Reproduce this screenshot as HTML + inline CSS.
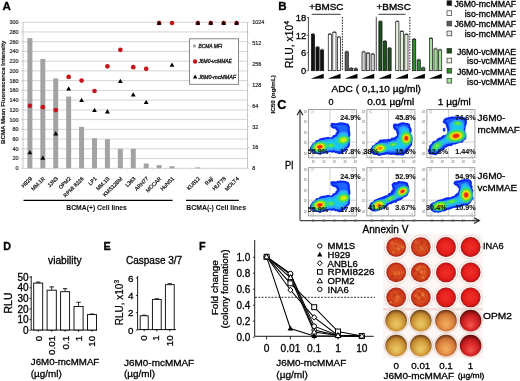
<!DOCTYPE html><html><head><meta charset="utf-8"><style>html,body{margin:0;padding:0;background:#fff;}svg{display:block;will-change:transform;}text{font-family:"Liberation Sans",sans-serif;}</style></head><body><svg width="520" height="381" viewBox="0 0 520 381" font-family="'Liberation Sans', sans-serif">
<defs>
<filter id="bl" x="-20%" y="-20%" width="140%" height="140%"><feGaussianBlur stdDeviation="0.45"/></filter>
<radialGradient id="gOr" cx="50%" cy="50%" r="50%"><stop offset="0" stop-color="#dc5424"/><stop offset="0.7" stop-color="#d2441c"/><stop offset="0.9" stop-color="#bc2e18"/><stop offset="1" stop-color="#9a2012"/></radialGradient>
<radialGradient id="gRd" cx="50%" cy="50%" r="50%"><stop offset="0" stop-color="#f03028"/><stop offset="0.7" stop-color="#e41e1c"/><stop offset="0.9" stop-color="#c41616"/><stop offset="1" stop-color="#a21212"/></radialGradient>
<radialGradient id="gGd" cx="50%" cy="56%" r="56%" fx="50%" fy="70%"><stop offset="0" stop-color="#eccb6c"/><stop offset="0.45" stop-color="#dcab48"/><stop offset="0.75" stop-color="#c08830"/><stop offset="0.9" stop-color="#8c5a20"/><stop offset="1" stop-color="#5e3c14"/></radialGradient>
<radialGradient id="gOg" cx="50%" cy="56%" r="56%" fx="50%" fy="70%"><stop offset="0" stop-color="#f2b060"/><stop offset="0.45" stop-color="#e4924a"/><stop offset="0.75" stop-color="#cc7234"/><stop offset="0.9" stop-color="#8e4a20"/><stop offset="1" stop-color="#5e3014"/></radialGradient>
<radialGradient id="gDr" cx="50%" cy="56%" r="56%" fx="50%" fy="74%"><stop offset="0" stop-color="#f05a50"/><stop offset="0.4" stop-color="#e23030"/><stop offset="0.72" stop-color="#c01c1c"/><stop offset="0.9" stop-color="#7c1010"/><stop offset="1" stop-color="#4a0a0a"/></radialGradient>
<radialGradient id="hR"><stop offset="0" stop-color="#e8101a"/><stop offset="0.22" stop-color="#f04010"/><stop offset="0.4" stop-color="#f8e800"/><stop offset="0.62" stop-color="#40e050"/><stop offset="0.85" stop-color="#30d890" stop-opacity="0.6"/><stop offset="1" stop-color="#20c8f0" stop-opacity="0"/></radialGradient>
<radialGradient id="hR2"><stop offset="0" stop-color="#f05010"/><stop offset="0.2" stop-color="#f8a000"/><stop offset="0.4" stop-color="#f0f000"/><stop offset="0.65" stop-color="#40e050"/><stop offset="0.85" stop-color="#30d890" stop-opacity="0.6"/><stop offset="1" stop-color="#20c8f0" stop-opacity="0"/></radialGradient>
<radialGradient id="hY"><stop offset="0" stop-color="#e8e000"/><stop offset="0.3" stop-color="#c8f000"/><stop offset="0.6" stop-color="#40e050"/><stop offset="0.85" stop-color="#30d890" stop-opacity="0.6"/><stop offset="1" stop-color="#20c8f0" stop-opacity="0"/></radialGradient>
<radialGradient id="hG"><stop offset="0" stop-color="#a8f040"/><stop offset="0.35" stop-color="#40e050"/><stop offset="0.75" stop-color="#30d890" stop-opacity="0.6"/><stop offset="1" stop-color="#20c8f0" stop-opacity="0"/></radialGradient>
</defs>
<rect width="520" height="381" fill="#fff"/>
<text x="2.6" y="10.1" font-size="11.6" font-weight="bold" fill="#000" stroke="#000" stroke-width="0.3">A</text>
<line x1="23" y1="168.3" x2="247.5" y2="168.3" stroke="#cfcfcf" stroke-width="0.9"/>
<line x1="23" y1="158.56" x2="247.5" y2="158.56" stroke="#cfcfcf" stroke-width="0.9"/>
<line x1="23" y1="148.82" x2="247.5" y2="148.82" stroke="#cfcfcf" stroke-width="0.9"/>
<line x1="23" y1="139.08" x2="247.5" y2="139.08" stroke="#cfcfcf" stroke-width="0.9"/>
<line x1="23" y1="129.34" x2="247.5" y2="129.34" stroke="#cfcfcf" stroke-width="0.9"/>
<line x1="23" y1="119.6" x2="247.5" y2="119.6" stroke="#cfcfcf" stroke-width="0.9"/>
<line x1="23" y1="109.86" x2="247.5" y2="109.86" stroke="#cfcfcf" stroke-width="0.9"/>
<line x1="23" y1="100.12" x2="247.5" y2="100.12" stroke="#cfcfcf" stroke-width="0.9"/>
<line x1="23" y1="90.38" x2="247.5" y2="90.38" stroke="#cfcfcf" stroke-width="0.9"/>
<line x1="23" y1="80.64" x2="247.5" y2="80.64" stroke="#cfcfcf" stroke-width="0.9"/>
<line x1="23" y1="70.9" x2="247.5" y2="70.9" stroke="#cfcfcf" stroke-width="0.9"/>
<line x1="23" y1="61.16" x2="247.5" y2="61.16" stroke="#cfcfcf" stroke-width="0.9"/>
<line x1="23" y1="51.42" x2="247.5" y2="51.42" stroke="#cfcfcf" stroke-width="0.9"/>
<line x1="23" y1="41.68" x2="247.5" y2="41.68" stroke="#cfcfcf" stroke-width="0.9"/>
<line x1="23" y1="31.94" x2="247.5" y2="31.94" stroke="#cfcfcf" stroke-width="0.9"/>
<line x1="23" y1="22.2" x2="247.5" y2="22.2" stroke="#cfcfcf" stroke-width="0.9"/>
<line x1="23" y1="22.2" x2="23" y2="168.3" stroke="#b8b8b8" stroke-width="0.8"/>
<line x1="247.5" y1="22.2" x2="247.5" y2="168.3" stroke="#b8b8b8" stroke-width="0.8"/>
<line x1="21" y1="168.3" x2="23" y2="168.3" stroke="#b8b8b8" stroke-width="0.6"/>
<text x="18.6" y="170.2" font-size="5.5" text-anchor="end" fill="#2a2a2a" stroke="#2a2a2a" stroke-width="0.2">0</text>
<line x1="21" y1="158.56" x2="23" y2="158.56" stroke="#b8b8b8" stroke-width="0.6"/>
<text x="18.6" y="160.46" font-size="5.5" text-anchor="end" fill="#2a2a2a" stroke="#2a2a2a" stroke-width="0.2">20</text>
<line x1="21" y1="148.82" x2="23" y2="148.82" stroke="#b8b8b8" stroke-width="0.6"/>
<text x="18.6" y="150.72" font-size="5.5" text-anchor="end" fill="#2a2a2a" stroke="#2a2a2a" stroke-width="0.2">40</text>
<line x1="21" y1="139.08" x2="23" y2="139.08" stroke="#b8b8b8" stroke-width="0.6"/>
<text x="18.6" y="140.98" font-size="5.5" text-anchor="end" fill="#2a2a2a" stroke="#2a2a2a" stroke-width="0.2">60</text>
<line x1="21" y1="129.34" x2="23" y2="129.34" stroke="#b8b8b8" stroke-width="0.6"/>
<text x="18.6" y="131.24" font-size="5.5" text-anchor="end" fill="#2a2a2a" stroke="#2a2a2a" stroke-width="0.2">80</text>
<line x1="21" y1="119.6" x2="23" y2="119.6" stroke="#b8b8b8" stroke-width="0.6"/>
<text x="18.6" y="121.5" font-size="5.5" text-anchor="end" fill="#2a2a2a" stroke="#2a2a2a" stroke-width="0.2">100</text>
<line x1="21" y1="109.86" x2="23" y2="109.86" stroke="#b8b8b8" stroke-width="0.6"/>
<text x="18.6" y="111.76" font-size="5.5" text-anchor="end" fill="#2a2a2a" stroke="#2a2a2a" stroke-width="0.2">120</text>
<line x1="21" y1="100.12" x2="23" y2="100.12" stroke="#b8b8b8" stroke-width="0.6"/>
<text x="18.6" y="102.02" font-size="5.5" text-anchor="end" fill="#2a2a2a" stroke="#2a2a2a" stroke-width="0.2">140</text>
<line x1="21" y1="90.38" x2="23" y2="90.38" stroke="#b8b8b8" stroke-width="0.6"/>
<text x="18.6" y="92.28" font-size="5.5" text-anchor="end" fill="#2a2a2a" stroke="#2a2a2a" stroke-width="0.2">160</text>
<line x1="21" y1="80.64" x2="23" y2="80.64" stroke="#b8b8b8" stroke-width="0.6"/>
<text x="18.6" y="82.54" font-size="5.5" text-anchor="end" fill="#2a2a2a" stroke="#2a2a2a" stroke-width="0.2">180</text>
<line x1="21" y1="70.9" x2="23" y2="70.9" stroke="#b8b8b8" stroke-width="0.6"/>
<text x="18.6" y="72.8" font-size="5.5" text-anchor="end" fill="#2a2a2a" stroke="#2a2a2a" stroke-width="0.2">200</text>
<line x1="21" y1="61.16" x2="23" y2="61.16" stroke="#b8b8b8" stroke-width="0.6"/>
<text x="18.6" y="63.06" font-size="5.5" text-anchor="end" fill="#2a2a2a" stroke="#2a2a2a" stroke-width="0.2">220</text>
<line x1="21" y1="51.42" x2="23" y2="51.42" stroke="#b8b8b8" stroke-width="0.6"/>
<text x="18.6" y="53.32" font-size="5.5" text-anchor="end" fill="#2a2a2a" stroke="#2a2a2a" stroke-width="0.2">240</text>
<line x1="21" y1="41.68" x2="23" y2="41.68" stroke="#b8b8b8" stroke-width="0.6"/>
<text x="18.6" y="43.58" font-size="5.5" text-anchor="end" fill="#2a2a2a" stroke="#2a2a2a" stroke-width="0.2">260</text>
<line x1="21" y1="31.94" x2="23" y2="31.94" stroke="#b8b8b8" stroke-width="0.6"/>
<text x="18.6" y="33.84" font-size="5.5" text-anchor="end" fill="#2a2a2a" stroke="#2a2a2a" stroke-width="0.2">280</text>
<line x1="21" y1="22.2" x2="23" y2="22.2" stroke="#b8b8b8" stroke-width="0.6"/>
<text x="18.6" y="24.1" font-size="5.5" text-anchor="end" fill="#2a2a2a" stroke="#2a2a2a" stroke-width="0.2">300</text>
<line x1="247.5" y1="22.3" x2="249.5" y2="22.3" stroke="#b8b8b8" stroke-width="0.6"/>
<line x1="247.5" y1="32.7" x2="249" y2="32.7" stroke="#c8c8c8" stroke-width="0.5"/>
<text x="252.2" y="24.2" font-size="5.5" fill="#2a2a2a" stroke="#2a2a2a" stroke-width="0.2">1024</text>
<line x1="247.5" y1="43.17" x2="249.5" y2="43.17" stroke="#b8b8b8" stroke-width="0.6"/>
<line x1="247.5" y1="53.57" x2="249" y2="53.57" stroke="#c8c8c8" stroke-width="0.5"/>
<text x="252.2" y="45.07" font-size="5.5" fill="#2a2a2a" stroke="#2a2a2a" stroke-width="0.2">512</text>
<line x1="247.5" y1="64.04" x2="249.5" y2="64.04" stroke="#b8b8b8" stroke-width="0.6"/>
<line x1="247.5" y1="74.44" x2="249" y2="74.44" stroke="#c8c8c8" stroke-width="0.5"/>
<text x="252.2" y="65.94" font-size="5.5" fill="#2a2a2a" stroke="#2a2a2a" stroke-width="0.2">256</text>
<line x1="247.5" y1="84.91" x2="249.5" y2="84.91" stroke="#b8b8b8" stroke-width="0.6"/>
<line x1="247.5" y1="95.31" x2="249" y2="95.31" stroke="#c8c8c8" stroke-width="0.5"/>
<text x="252.2" y="86.81" font-size="5.5" fill="#2a2a2a" stroke="#2a2a2a" stroke-width="0.2">128</text>
<line x1="247.5" y1="105.78" x2="249.5" y2="105.78" stroke="#b8b8b8" stroke-width="0.6"/>
<line x1="247.5" y1="116.18" x2="249" y2="116.18" stroke="#c8c8c8" stroke-width="0.5"/>
<text x="252.2" y="107.68" font-size="5.5" fill="#2a2a2a" stroke="#2a2a2a" stroke-width="0.2">64</text>
<line x1="247.5" y1="126.65" x2="249.5" y2="126.65" stroke="#b8b8b8" stroke-width="0.6"/>
<line x1="247.5" y1="137.05" x2="249" y2="137.05" stroke="#c8c8c8" stroke-width="0.5"/>
<text x="252.2" y="128.55" font-size="5.5" fill="#2a2a2a" stroke="#2a2a2a" stroke-width="0.2">32</text>
<line x1="247.5" y1="147.52" x2="249.5" y2="147.52" stroke="#b8b8b8" stroke-width="0.6"/>
<line x1="247.5" y1="157.92" x2="249" y2="157.92" stroke="#c8c8c8" stroke-width="0.5"/>
<text x="252.2" y="149.42" font-size="5.5" fill="#2a2a2a" stroke="#2a2a2a" stroke-width="0.2">16</text>
<line x1="247.5" y1="168.39" x2="249.5" y2="168.39" stroke="#b8b8b8" stroke-width="0.6"/>
<text x="252.2" y="170.29" font-size="5.5" fill="#2a2a2a" stroke="#2a2a2a" stroke-width="0.2">8</text>
<text x="5.4" y="92.2" font-size="6" text-anchor="middle" font-weight="bold" fill="#111" stroke="#111" stroke-width="0.15" transform="rotate(-90 5.4 92.2)" textLength="103.4" lengthAdjust="spacingAndGlyphs">BCMA Mean Fluorescence Intensity</text>
<text x="274.9" y="94.3" font-size="5.4" text-anchor="middle" font-weight="bold" fill="#111" stroke="#111" stroke-width="0.15" transform="rotate(-90 274.9 94.3)" textLength="38.5" lengthAdjust="spacingAndGlyphs">IC50 (ng/mL)</text>
<line x1="36.36" y1="168.3" x2="36.36" y2="169.8" stroke="#c8c8c8" stroke-width="0.5"/>
<rect x="27.4" y="38.1" width="5" height="130.2" fill="#a3a3a3" stroke="none" stroke-width="1"/>
<line x1="49.28" y1="168.3" x2="49.28" y2="169.8" stroke="#c8c8c8" stroke-width="0.5"/>
<rect x="40.32" y="58.9" width="5" height="109.4" fill="#a3a3a3" stroke="none" stroke-width="1"/>
<line x1="62.2" y1="168.3" x2="62.2" y2="169.8" stroke="#c8c8c8" stroke-width="0.5"/>
<rect x="53.24" y="78.4" width="5" height="89.9" fill="#a3a3a3" stroke="none" stroke-width="1"/>
<line x1="75.12" y1="168.3" x2="75.12" y2="169.8" stroke="#c8c8c8" stroke-width="0.5"/>
<rect x="66.16" y="96.5" width="5" height="71.8" fill="#a3a3a3" stroke="none" stroke-width="1"/>
<line x1="88.04" y1="168.3" x2="88.04" y2="169.8" stroke="#c8c8c8" stroke-width="0.5"/>
<rect x="79.08" y="126.9" width="5" height="41.4" fill="#a3a3a3" stroke="none" stroke-width="1"/>
<line x1="100.96" y1="168.3" x2="100.96" y2="169.8" stroke="#c8c8c8" stroke-width="0.5"/>
<rect x="92" y="138.2" width="5" height="30.1" fill="#a3a3a3" stroke="none" stroke-width="1"/>
<line x1="113.88" y1="168.3" x2="113.88" y2="169.8" stroke="#c8c8c8" stroke-width="0.5"/>
<rect x="104.92" y="139.2" width="5" height="29.1" fill="#a3a3a3" stroke="none" stroke-width="1"/>
<line x1="126.8" y1="168.3" x2="126.8" y2="169.8" stroke="#c8c8c8" stroke-width="0.5"/>
<rect x="117.84" y="148.8" width="5" height="19.5" fill="#a3a3a3" stroke="none" stroke-width="1"/>
<line x1="139.72" y1="168.3" x2="139.72" y2="169.8" stroke="#c8c8c8" stroke-width="0.5"/>
<rect x="130.76" y="148.8" width="5" height="19.5" fill="#a3a3a3" stroke="none" stroke-width="1"/>
<line x1="152.64" y1="168.3" x2="152.64" y2="169.8" stroke="#c8c8c8" stroke-width="0.5"/>
<rect x="143.68" y="163.5" width="5" height="4.8" fill="#a3a3a3" stroke="none" stroke-width="1"/>
<line x1="165.56" y1="168.3" x2="165.56" y2="169.8" stroke="#c8c8c8" stroke-width="0.5"/>
<rect x="156.6" y="165.1" width="5" height="3.2" fill="#a3a3a3" stroke="none" stroke-width="1"/>
<line x1="178.48" y1="168.3" x2="178.48" y2="169.8" stroke="#c8c8c8" stroke-width="0.5"/>
<rect x="169.52" y="166.2" width="5" height="2.1" fill="#a3a3a3" stroke="none" stroke-width="1"/>
<line x1="191.4" y1="168.3" x2="191.4" y2="169.8" stroke="#c8c8c8" stroke-width="0.5"/>
<line x1="204.32" y1="168.3" x2="204.32" y2="169.8" stroke="#c8c8c8" stroke-width="0.5"/>
<rect x="195.36" y="167.4" width="5" height="0.9" fill="#a3a3a3" stroke="none" stroke-width="1"/>
<line x1="217.24" y1="168.3" x2="217.24" y2="169.8" stroke="#c8c8c8" stroke-width="0.5"/>
<line x1="230.16" y1="168.3" x2="230.16" y2="169.8" stroke="#c8c8c8" stroke-width="0.5"/>
<line x1="243.08" y1="168.3" x2="243.08" y2="169.8" stroke="#c8c8c8" stroke-width="0.5"/>
<circle cx="29.9" cy="105.8" r="2.35" fill="#c4161c" stroke="none" stroke-width="1"/>
<polygon points="29.9,150 32.3,154.3 27.5,154.3" fill="#000" stroke="none" stroke-width="1"/>
<text x="32.5" y="179" font-size="5.3" text-anchor="end" fill="#1a1a1a" stroke="#1a1a1a" stroke-width="0.26" transform="rotate(-45 32.5 179)">H929</text>
<circle cx="42.82" cy="107.2" r="2.35" fill="#c4161c" stroke="none" stroke-width="1"/>
<polygon points="42.82,155.5 45.22,159.8 40.42,159.8" fill="#000" stroke="none" stroke-width="1"/>
<text x="45.42" y="179" font-size="5.3" text-anchor="end" fill="#1a1a1a" stroke="#1a1a1a" stroke-width="0.26" transform="rotate(-45 45.42 179)">MM.1R</text>
<circle cx="55.74" cy="110.1" r="2.35" fill="#c4161c" stroke="none" stroke-width="1"/>
<polygon points="55.74,131.1 58.14,135.4 53.34,135.4" fill="#000" stroke="none" stroke-width="1"/>
<text x="58.34" y="179" font-size="5.3" text-anchor="end" fill="#1a1a1a" stroke="#1a1a1a" stroke-width="0.26" transform="rotate(-45 58.34 179)">JJN3</text>
<circle cx="68.66" cy="76.9" r="2.35" fill="#c4161c" stroke="none" stroke-width="1"/>
<polygon points="68.66,86.2 71.06,90.5 66.26,90.5" fill="#000" stroke="none" stroke-width="1"/>
<text x="71.26" y="179" font-size="5.3" text-anchor="end" fill="#1a1a1a" stroke="#1a1a1a" stroke-width="0.26" transform="rotate(-45 71.26 179)">OPM2</text>
<circle cx="81.58" cy="80.6" r="2.35" fill="#c4161c" stroke="none" stroke-width="1"/>
<polygon points="81.58,97.7 83.98,102 79.18,102" fill="#000" stroke="none" stroke-width="1"/>
<text x="84.18" y="179" font-size="5.3" text-anchor="end" fill="#1a1a1a" stroke="#1a1a1a" stroke-width="0.26" transform="rotate(-45 84.18 179)">RPMI 8226</text>
<circle cx="94.5" cy="91" r="2.35" fill="#c4161c" stroke="none" stroke-width="1"/>
<polygon points="94.5,107.8 96.9,112.1 92.1,112.1" fill="#000" stroke="none" stroke-width="1"/>
<text x="97.1" y="179" font-size="5.3" text-anchor="end" fill="#1a1a1a" stroke="#1a1a1a" stroke-width="0.26" transform="rotate(-45 97.1 179)">LP1</text>
<circle cx="107.42" cy="66.3" r="2.35" fill="#c4161c" stroke="none" stroke-width="1"/>
<polygon points="107.42,109.1 109.82,113.4 105.02,113.4" fill="#000" stroke="none" stroke-width="1"/>
<text x="110.02" y="179" font-size="5.3" text-anchor="end" fill="#1a1a1a" stroke="#1a1a1a" stroke-width="0.26" transform="rotate(-45 110.02 179)">MM.1S</text>
<circle cx="120.34" cy="49.8" r="2.35" fill="#c4161c" stroke="none" stroke-width="1"/>
<polygon points="120.34,78.8 122.74,83.1 117.94,83.1" fill="#000" stroke="none" stroke-width="1"/>
<text x="122.94" y="179" font-size="5.3" text-anchor="end" fill="#1a1a1a" stroke="#1a1a1a" stroke-width="0.26" transform="rotate(-45 122.94 179)">KMS12BM</text>
<circle cx="133.26" cy="67.2" r="2.35" fill="#c4161c" stroke="none" stroke-width="1"/>
<polygon points="133.26,92.3 135.66,96.6 130.86,96.6" fill="#000" stroke="none" stroke-width="1"/>
<text x="135.86" y="179" font-size="5.3" text-anchor="end" fill="#1a1a1a" stroke="#1a1a1a" stroke-width="0.26" transform="rotate(-45 135.86 179)">L363</text>
<circle cx="146.18" cy="68.8" r="2.35" fill="#c4161c" stroke="none" stroke-width="1"/>
<polygon points="146.18,99.8 148.58,104.1 143.78,104.1" fill="#000" stroke="none" stroke-width="1"/>
<text x="148.78" y="179" font-size="5.3" text-anchor="end" fill="#1a1a1a" stroke="#1a1a1a" stroke-width="0.26" transform="rotate(-45 148.78 179)">ARH77</text>
<circle cx="159.1" cy="23" r="2.35" fill="#c4161c" stroke="none" stroke-width="1"/>
<polygon points="159.1,20.5 161.5,24.8 156.7,24.8" fill="#000" stroke="none" stroke-width="1"/>
<text x="161.7" y="179" font-size="5.3" text-anchor="end" fill="#1a1a1a" stroke="#1a1a1a" stroke-width="0.26" transform="rotate(-45 161.7 179)">MCCAR</text>
<circle cx="172.02" cy="23" r="2.35" fill="#c4161c" stroke="none" stroke-width="1"/>
<polygon points="172.02,62.5 174.42,66.8 169.62,66.8" fill="#000" stroke="none" stroke-width="1"/>
<text x="174.62" y="179" font-size="5.3" text-anchor="end" fill="#1a1a1a" stroke="#1a1a1a" stroke-width="0.26" transform="rotate(-45 174.62 179)">HuNS1</text>
<circle cx="197.86" cy="23" r="2.35" fill="#c4161c" stroke="none" stroke-width="1"/>
<polygon points="197.86,20.5 200.26,24.8 195.46,24.8" fill="#000" stroke="none" stroke-width="1"/>
<text x="200.46" y="179" font-size="5.3" text-anchor="end" fill="#1a1a1a" stroke="#1a1a1a" stroke-width="0.26" transform="rotate(-45 200.46 179)">KU812</text>
<circle cx="210.78" cy="23" r="2.35" fill="#c4161c" stroke="none" stroke-width="1"/>
<polygon points="210.78,20.5 213.18,24.8 208.38,24.8" fill="#000" stroke="none" stroke-width="1"/>
<text x="213.38" y="179" font-size="5.3" text-anchor="end" fill="#1a1a1a" stroke="#1a1a1a" stroke-width="0.26" transform="rotate(-45 213.38 179)">Raji</text>
<circle cx="223.7" cy="23" r="2.35" fill="#c4161c" stroke="none" stroke-width="1"/>
<polygon points="223.7,20.5 226.1,24.8 221.3,24.8" fill="#000" stroke="none" stroke-width="1"/>
<text x="226.3" y="179" font-size="5.3" text-anchor="end" fill="#1a1a1a" stroke="#1a1a1a" stroke-width="0.26" transform="rotate(-45 226.3 179)">HUT78</text>
<circle cx="236.62" cy="23" r="2.35" fill="#c4161c" stroke="none" stroke-width="1"/>
<polygon points="236.62,20.5 239.02,24.8 234.22,24.8" fill="#000" stroke="none" stroke-width="1"/>
<text x="239.22" y="179" font-size="5.3" text-anchor="end" fill="#1a1a1a" stroke="#1a1a1a" stroke-width="0.26" transform="rotate(-45 239.22 179)">MOLT4</text>
<rect x="189.6" y="38.8" width="49" height="45.5" fill="#fff" stroke="#6a6a6a" stroke-width="0.8"/>
<rect x="193" y="44.6" width="2.8" height="2.8" fill="#a3a3a3" stroke="none" stroke-width="1"/>
<text x="198.4" y="48" font-size="5.2" font-style="italic" fill="#222" stroke="#222" stroke-width="0.32" textLength="23.8" lengthAdjust="spacingAndGlyphs">BCMA MFI</text>
<circle cx="195.1" cy="61.5" r="2.2" fill="#c4161c" stroke="none" stroke-width="1"/>
<text x="198.4" y="63.4" font-size="5.2" font-style="italic" fill="#222" stroke="#222" stroke-width="0.32" textLength="33.5" lengthAdjust="spacingAndGlyphs">J6M0-vcMMAE</text>
<polygon points="195.1,74.6 197.2,78.6 193,78.6" fill="#000" stroke="none" stroke-width="1"/>
<text x="198.4" y="78.7" font-size="5.2" font-style="italic" fill="#222" stroke="#222" stroke-width="0.32" textLength="37.6" lengthAdjust="spacingAndGlyphs">J6M0-mcMMAF</text>
<line x1="23.5" y1="200.4" x2="172.6" y2="200.4" stroke="#000" stroke-width="1.1"/>
<line x1="186" y1="200.4" x2="238.8" y2="200.4" stroke="#000" stroke-width="1.1"/>
<text x="66.3" y="210.4" font-size="6.9" font-weight="bold" fill="#111" stroke="#111" stroke-width="0.05" textLength="60.6" lengthAdjust="spacingAndGlyphs">BCMA(+) Cell lines</text>
<text x="186.3" y="210.4" font-size="6.9" font-weight="bold" fill="#111" stroke="#111" stroke-width="0.05" textLength="59.7" lengthAdjust="spacingAndGlyphs">BCMA(-) Cell lines</text>
<text x="278.3" y="9.9" font-size="11.6" font-weight="bold" fill="#000" stroke="#000" stroke-width="0.3">B</text>
<text x="309.2" y="9.7" font-size="9.8" fill="#000" stroke="#000" stroke-width="0.35" textLength="34.2" lengthAdjust="spacingAndGlyphs">+BMSC</text>
<line x1="311.7" y1="14.3" x2="340.6" y2="14.3" stroke="#222" stroke-width="0.9"/>
<text x="376.6" y="9.7" font-size="9.8" fill="#000" stroke="#000" stroke-width="0.35" textLength="34.2" lengthAdjust="spacingAndGlyphs">+BMSC</text>
<line x1="378.4" y1="14.3" x2="405.5" y2="14.3" stroke="#222" stroke-width="0.9"/>
<line x1="308.4" y1="17" x2="308.4" y2="70.7" stroke="#333" stroke-width="0.9"/>
<line x1="306.6" y1="17.6" x2="308.4" y2="17.6" stroke="#333" stroke-width="0.8"/>
<text x="306.2" y="20.9" font-size="9.4" text-anchor="end" fill="#000" stroke="#000" stroke-width="0.3">18</text>
<line x1="306.6" y1="35.3" x2="308.4" y2="35.3" stroke="#333" stroke-width="0.8"/>
<text x="306.2" y="38.6" font-size="9.4" text-anchor="end" fill="#000" stroke="#000" stroke-width="0.3">12</text>
<line x1="306.6" y1="53" x2="308.4" y2="53" stroke="#333" stroke-width="0.8"/>
<text x="306.2" y="56.3" font-size="9.4" text-anchor="end" fill="#000" stroke="#000" stroke-width="0.3">6</text>
<line x1="306.6" y1="70.7" x2="308.4" y2="70.7" stroke="#333" stroke-width="0.8"/>
<text x="306.2" y="74" font-size="9.4" text-anchor="end" fill="#000" stroke="#000" stroke-width="0.3">0</text>
<text x="293.2" y="44.5" font-size="10.4" text-anchor="middle" stroke="#000" stroke-width="0.22" transform="rotate(-90 293.2 44.5)">RLU,  x10<tspan font-size="6.8" dy="-4">4</tspan></text>
<rect x="311.4" y="34.4" width="3.2" height="36.3" fill="#111111" stroke="#111" stroke-width="0.7"/>
<line x1="311.8" y1="33.6" x2="314.2" y2="33.6" stroke="#111" stroke-width="0.6"/>
<rect x="315.95" y="47.3" width="3.2" height="23.4" fill="#111111" stroke="#111" stroke-width="0.7"/>
<line x1="316.35" y1="46.5" x2="318.75" y2="46.5" stroke="#111" stroke-width="0.6"/>
<rect x="320.5" y="50" width="3.2" height="20.7" fill="#111111" stroke="#111" stroke-width="0.7"/>
<line x1="320.9" y1="49.2" x2="323.3" y2="49.2" stroke="#111" stroke-width="0.6"/>
<polygon points="311.4,78.4 323.7,73.7 323.7,78.6 311.9,78.8" fill="#000" stroke="none" stroke-width="1"/>
<rect x="328.26" y="34.3" width="3.2" height="36.4" fill="#ffffff" stroke="#111" stroke-width="0.7"/>
<line x1="328.66" y1="33.5" x2="331.06" y2="33.5" stroke="#111" stroke-width="0.6"/>
<rect x="332.81" y="32.4" width="3.2" height="38.3" fill="#ffffff" stroke="#111" stroke-width="0.7"/>
<line x1="333.21" y1="31.6" x2="335.61" y2="31.6" stroke="#111" stroke-width="0.6"/>
<rect x="337.36" y="37.2" width="3.2" height="33.5" fill="#ffffff" stroke="#111" stroke-width="0.7"/>
<line x1="337.76" y1="36.4" x2="340.16" y2="36.4" stroke="#111" stroke-width="0.6"/>
<polygon points="328.26,78.4 340.56,73.7 340.56,78.6 328.76,78.8" fill="#000" stroke="none" stroke-width="1"/>
<rect x="345.12" y="51.9" width="3.2" height="18.8" fill="#5a5a5a" stroke="#111" stroke-width="0.7"/>
<line x1="345.52" y1="51.1" x2="347.92" y2="51.1" stroke="#111" stroke-width="0.6"/>
<rect x="349.67" y="68.5" width="3.2" height="2.2" fill="#5a5a5a" stroke="#111" stroke-width="0.7"/>
<line x1="350.07" y1="67.7" x2="352.47" y2="67.7" stroke="#111" stroke-width="0.6"/>
<rect x="354.22" y="68.8" width="3.2" height="1.9" fill="#5a5a5a" stroke="#111" stroke-width="0.7"/>
<line x1="354.62" y1="68" x2="357.02" y2="68" stroke="#111" stroke-width="0.6"/>
<polygon points="345.12,78.4 357.42,73.7 357.42,78.6 345.62,78.8" fill="#000" stroke="none" stroke-width="1"/>
<rect x="361.98" y="52" width="3.2" height="18.7" fill="#d0d0d0" stroke="#111" stroke-width="0.7"/>
<line x1="362.38" y1="51.2" x2="364.78" y2="51.2" stroke="#111" stroke-width="0.6"/>
<rect x="366.53" y="53.3" width="3.2" height="17.4" fill="#d0d0d0" stroke="#111" stroke-width="0.7"/>
<line x1="366.93" y1="52.5" x2="369.33" y2="52.5" stroke="#111" stroke-width="0.6"/>
<rect x="371.08" y="54.2" width="3.2" height="16.5" fill="#d0d0d0" stroke="#111" stroke-width="0.7"/>
<line x1="371.48" y1="53.4" x2="373.88" y2="53.4" stroke="#111" stroke-width="0.6"/>
<polygon points="361.98,78.4 374.28,73.7 374.28,78.6 362.48,78.8" fill="#000" stroke="none" stroke-width="1"/>
<rect x="378.84" y="21.7" width="3.2" height="49" fill="#1d4f1d" stroke="#111" stroke-width="0.7"/>
<line x1="379.24" y1="20.9" x2="381.64" y2="20.9" stroke="#111" stroke-width="0.6"/>
<rect x="383.39" y="41.4" width="3.2" height="29.3" fill="#1d4f1d" stroke="#111" stroke-width="0.7"/>
<line x1="383.79" y1="40.6" x2="386.19" y2="40.6" stroke="#111" stroke-width="0.6"/>
<rect x="387.94" y="48.2" width="3.2" height="22.5" fill="#1d4f1d" stroke="#111" stroke-width="0.7"/>
<line x1="388.34" y1="47.4" x2="390.74" y2="47.4" stroke="#111" stroke-width="0.6"/>
<polygon points="378.84,78.4 391.14,73.7 391.14,78.6 379.34,78.8" fill="#000" stroke="none" stroke-width="1"/>
<rect x="395.7" y="21.7" width="3.2" height="49" fill="#e4f2de" stroke="#111" stroke-width="0.7"/>
<line x1="396.1" y1="20.9" x2="398.5" y2="20.9" stroke="#111" stroke-width="0.6"/>
<rect x="400.25" y="31.6" width="3.2" height="39.1" fill="#e4f2de" stroke="#111" stroke-width="0.7"/>
<line x1="400.65" y1="30.8" x2="403.05" y2="30.8" stroke="#111" stroke-width="0.6"/>
<rect x="404.8" y="34.6" width="3.2" height="36.1" fill="#e4f2de" stroke="#111" stroke-width="0.7"/>
<line x1="405.2" y1="33.8" x2="407.6" y2="33.8" stroke="#111" stroke-width="0.6"/>
<polygon points="395.7,78.4 408,73.7 408,78.6 396.2,78.8" fill="#000" stroke="none" stroke-width="1"/>
<rect x="412.56" y="39.4" width="3.2" height="31.3" fill="#2e8b2e" stroke="#111" stroke-width="0.7"/>
<line x1="412.96" y1="38.6" x2="415.36" y2="38.6" stroke="#111" stroke-width="0.6"/>
<rect x="417.11" y="60" width="3.2" height="10.7" fill="#2e8b2e" stroke="#111" stroke-width="0.7"/>
<line x1="417.51" y1="59.2" x2="419.91" y2="59.2" stroke="#111" stroke-width="0.6"/>
<rect x="421.66" y="67.9" width="3.2" height="2.8" fill="#2e8b2e" stroke="#111" stroke-width="0.7"/>
<line x1="422.06" y1="67.1" x2="424.46" y2="67.1" stroke="#111" stroke-width="0.6"/>
<polygon points="412.56,78.4 424.86,73.7 424.86,78.6 413.06,78.8" fill="#000" stroke="none" stroke-width="1"/>
<rect x="429.42" y="38.5" width="3.2" height="32.2" fill="#a6e39a" stroke="#111" stroke-width="0.7"/>
<line x1="429.82" y1="37.7" x2="432.22" y2="37.7" stroke="#111" stroke-width="0.6"/>
<rect x="433.97" y="49" width="3.2" height="21.7" fill="#a6e39a" stroke="#111" stroke-width="0.7"/>
<line x1="434.37" y1="48.2" x2="436.77" y2="48.2" stroke="#111" stroke-width="0.6"/>
<rect x="438.52" y="50" width="3.2" height="20.7" fill="#a6e39a" stroke="#111" stroke-width="0.7"/>
<line x1="438.92" y1="49.2" x2="441.32" y2="49.2" stroke="#111" stroke-width="0.6"/>
<polygon points="429.42,78.4 441.72,73.7 441.72,78.6 429.92,78.8" fill="#000" stroke="none" stroke-width="1"/>
<line x1="342.4" y1="17" x2="342.4" y2="70.7" stroke="#111" stroke-width="0.9" stroke-dasharray="1.6,1.1"/>
<line x1="409.8" y1="17" x2="409.8" y2="70.7" stroke="#111" stroke-width="0.9" stroke-dasharray="1.6,1.1"/>
<line x1="376.3" y1="16.8" x2="376.3" y2="70.7" stroke="#555" stroke-width="1.1"/>
<text x="331.5" y="92.1" font-size="9" fill="#000" stroke="#000" stroke-width="0.3" textLength="89.5" lengthAdjust="spacingAndGlyphs">ADC ( 0,1,10 &#181;g/ml)</text>
<rect x="447" y="0.8" width="4.7" height="4.7" fill="#111111" stroke="#333" stroke-width="0.7"/>
<text x="516.2" y="7" font-size="8.75" text-anchor="end" fill="#000" stroke="#000" stroke-width="0.3">J6M0-mcMMAF</text>
<rect x="447" y="10.8" width="4.7" height="4.7" fill="#ffffff" stroke="#333" stroke-width="0.7"/>
<text x="516.2" y="17" font-size="8.75" text-anchor="end" fill="#000" stroke="#000" stroke-width="0.3">iso-mcMMAF</text>
<rect x="447" y="21.2" width="4.7" height="4.7" fill="#5a5a5a" stroke="#333" stroke-width="0.7"/>
<text x="516.2" y="27.4" font-size="8.75" text-anchor="end" fill="#000" stroke="#000" stroke-width="0.3">J6M0-mcMMAF</text>
<rect x="447" y="31.1" width="4.7" height="4.7" fill="#ececec" stroke="#333" stroke-width="0.7"/>
<text x="516.2" y="37.3" font-size="8.75" text-anchor="end" fill="#000" stroke="#000" stroke-width="0.3">iso-mcMMAF</text>
<rect x="447" y="48.4" width="4.7" height="4.7" fill="#1d4f1d" stroke="#333" stroke-width="0.7"/>
<text x="516.2" y="54.6" font-size="8.75" text-anchor="end" fill="#000" stroke="#000" stroke-width="0.3">J6M0-vcMMAE</text>
<rect x="447" y="58.2" width="4.7" height="4.7" fill="#eef8ea" stroke="#333" stroke-width="0.7"/>
<text x="516.2" y="64.4" font-size="8.75" text-anchor="end" fill="#000" stroke="#000" stroke-width="0.3">iso-vcMMAE</text>
<rect x="447" y="68.4" width="4.7" height="4.7" fill="#2e8b2e" stroke="#333" stroke-width="0.7"/>
<text x="516.2" y="74.6" font-size="8.75" text-anchor="end" fill="#000" stroke="#000" stroke-width="0.3">J6M0-vcMMAE</text>
<rect x="447" y="78.4" width="4.7" height="4.7" fill="#a6e39a" stroke="#333" stroke-width="0.7"/>
<text x="516.2" y="84.6" font-size="8.75" text-anchor="end" fill="#000" stroke="#000" stroke-width="0.3">iso-vcMMAE</text>
<text x="277.3" y="109.2" font-size="12.6" font-weight="bold" fill="#000" stroke="#000" stroke-width="0.3">C</text>
<text x="331" y="105.3" font-size="9" text-anchor="middle" fill="#000" stroke="#000" stroke-width="0.3">0</text>
<text x="367.2" y="105.3" font-size="9" fill="#000" stroke="#000" stroke-width="0.3" textLength="47" lengthAdjust="spacingAndGlyphs">0.01 &#181;g/ml</text>
<text x="437.8" y="105.3" font-size="9" fill="#000" stroke="#000" stroke-width="0.3" textLength="33" lengthAdjust="spacingAndGlyphs">1 &#181;g/ml</text>
<line x1="300" y1="110.5" x2="300" y2="220.6" stroke="#444" stroke-width="1.2"/>
<line x1="300" y1="220.6" x2="478.5" y2="220.6" stroke="#444" stroke-width="1.2"/>
<polyline points="297.1,115.2 300,110 302.9,115.2" fill="none" stroke="#222" stroke-width="1.2"/>
<polyline points="474,217.7 479.3,220.6 474,223.5" fill="none" stroke="#222" stroke-width="1.2"/>
<text x="284.9" y="168.7" font-size="10.8" fill="#000" stroke="#000" stroke-width="0.3" textLength="8.7" lengthAdjust="spacingAndGlyphs">PI</text>
<text x="362.5" y="232.5" font-size="10.3" fill="#000" stroke="#000" stroke-width="0.3" textLength="45.9" lengthAdjust="spacingAndGlyphs">Annexin V</text>
<text x="477.6" y="120.9" font-size="9.9" fill="#000" stroke="#000" stroke-width="0.3" textLength="27.8" lengthAdjust="spacingAndGlyphs">J6M0-</text>
<text x="477.6" y="132.5" font-size="9.9" fill="#000" stroke="#000" stroke-width="0.3">mcMMAF</text>
<text x="477.6" y="179.3" font-size="9.9" fill="#000" stroke="#000" stroke-width="0.3" textLength="27.8" lengthAdjust="spacingAndGlyphs">J6M0-</text>
<text x="477.6" y="191.3" font-size="9.9" fill="#000" stroke="#000" stroke-width="0.3">vcMMAE</text>
<rect x="308.4" y="109.6" width="48" height="48.2" fill="#fff" stroke="#8c8c8c" stroke-width="0.8"/>
<line x1="330" y1="109.6" x2="330" y2="157.8" stroke="#b0b0b0" stroke-width="0.6"/>
<line x1="308.4" y1="142.1" x2="356.4" y2="142.1" stroke="#b0b0b0" stroke-width="0.6"/>
<text x="310.4" y="113.2" font-size="2.6" fill="#999">Q1</text>
<text x="354.4" y="113.2" font-size="2.6" text-anchor="end" fill="#999">Q2</text>
<text x="310.4" y="156.6" font-size="2.6" fill="#999">Q3</text>
<text x="354.4" y="156.6" font-size="2.6" text-anchor="end" fill="#999">Q4</text>
<line x1="307.2" y1="153.8" x2="308.4" y2="153.8" stroke="#999" stroke-width="0.5"/>
<text x="306.6" y="154.8" font-size="2.8" text-anchor="end" fill="#555" font-style="italic">10</text>
<line x1="307.2" y1="143.3" x2="308.4" y2="143.3" stroke="#999" stroke-width="0.5"/>
<text x="306.6" y="144.3" font-size="2.8" text-anchor="end" fill="#555" font-style="italic">10</text>
<line x1="307.2" y1="132.8" x2="308.4" y2="132.8" stroke="#999" stroke-width="0.5"/>
<text x="306.6" y="133.8" font-size="2.8" text-anchor="end" fill="#555" font-style="italic">10</text>
<line x1="307.2" y1="122.3" x2="308.4" y2="122.3" stroke="#999" stroke-width="0.5"/>
<text x="306.6" y="123.3" font-size="2.8" text-anchor="end" fill="#555" font-style="italic">10</text>
<line x1="307.2" y1="111.8" x2="308.4" y2="111.8" stroke="#999" stroke-width="0.5"/>
<text x="306.6" y="112.8" font-size="2.8" text-anchor="end" fill="#555" font-style="italic">10</text>
<line x1="312.4" y1="157.8" x2="312.4" y2="159" stroke="#999" stroke-width="0.5"/>
<text x="313.2" y="163.4" font-size="2.8" text-anchor="middle" fill="#555" font-style="italic">10</text>
<line x1="322.9" y1="157.8" x2="322.9" y2="159" stroke="#999" stroke-width="0.5"/>
<text x="323.7" y="163.4" font-size="2.8" text-anchor="middle" fill="#555" font-style="italic">10</text>
<line x1="333.4" y1="157.8" x2="333.4" y2="159" stroke="#999" stroke-width="0.5"/>
<text x="334.2" y="163.4" font-size="2.8" text-anchor="middle" fill="#555" font-style="italic">10</text>
<line x1="343.9" y1="157.8" x2="343.9" y2="159" stroke="#999" stroke-width="0.5"/>
<text x="344.7" y="163.4" font-size="2.8" text-anchor="middle" fill="#555" font-style="italic">10</text>
<line x1="354.4" y1="157.8" x2="354.4" y2="159" stroke="#999" stroke-width="0.5"/>
<text x="355.2" y="163.4" font-size="2.8" text-anchor="middle" fill="#555" font-style="italic">10</text>
<rect x="366.9" y="109.6" width="48" height="48.2" fill="#fff" stroke="#8c8c8c" stroke-width="0.8"/>
<line x1="388.5" y1="109.6" x2="388.5" y2="157.8" stroke="#b0b0b0" stroke-width="0.6"/>
<line x1="366.9" y1="142.1" x2="414.9" y2="142.1" stroke="#b0b0b0" stroke-width="0.6"/>
<text x="368.9" y="113.2" font-size="2.6" fill="#999">Q1</text>
<text x="412.9" y="113.2" font-size="2.6" text-anchor="end" fill="#999">Q2</text>
<text x="368.9" y="156.6" font-size="2.6" fill="#999">Q3</text>
<text x="412.9" y="156.6" font-size="2.6" text-anchor="end" fill="#999">Q4</text>
<line x1="365.7" y1="153.8" x2="366.9" y2="153.8" stroke="#999" stroke-width="0.5"/>
<text x="365.1" y="154.8" font-size="2.8" text-anchor="end" fill="#555" font-style="italic">10</text>
<line x1="365.7" y1="143.3" x2="366.9" y2="143.3" stroke="#999" stroke-width="0.5"/>
<text x="365.1" y="144.3" font-size="2.8" text-anchor="end" fill="#555" font-style="italic">10</text>
<line x1="365.7" y1="132.8" x2="366.9" y2="132.8" stroke="#999" stroke-width="0.5"/>
<text x="365.1" y="133.8" font-size="2.8" text-anchor="end" fill="#555" font-style="italic">10</text>
<line x1="365.7" y1="122.3" x2="366.9" y2="122.3" stroke="#999" stroke-width="0.5"/>
<text x="365.1" y="123.3" font-size="2.8" text-anchor="end" fill="#555" font-style="italic">10</text>
<line x1="365.7" y1="111.8" x2="366.9" y2="111.8" stroke="#999" stroke-width="0.5"/>
<text x="365.1" y="112.8" font-size="2.8" text-anchor="end" fill="#555" font-style="italic">10</text>
<line x1="370.9" y1="157.8" x2="370.9" y2="159" stroke="#999" stroke-width="0.5"/>
<text x="371.7" y="163.4" font-size="2.8" text-anchor="middle" fill="#555" font-style="italic">10</text>
<line x1="381.4" y1="157.8" x2="381.4" y2="159" stroke="#999" stroke-width="0.5"/>
<text x="382.2" y="163.4" font-size="2.8" text-anchor="middle" fill="#555" font-style="italic">10</text>
<line x1="391.9" y1="157.8" x2="391.9" y2="159" stroke="#999" stroke-width="0.5"/>
<text x="392.7" y="163.4" font-size="2.8" text-anchor="middle" fill="#555" font-style="italic">10</text>
<line x1="402.4" y1="157.8" x2="402.4" y2="159" stroke="#999" stroke-width="0.5"/>
<text x="403.2" y="163.4" font-size="2.8" text-anchor="middle" fill="#555" font-style="italic">10</text>
<line x1="412.9" y1="157.8" x2="412.9" y2="159" stroke="#999" stroke-width="0.5"/>
<text x="413.7" y="163.4" font-size="2.8" text-anchor="middle" fill="#555" font-style="italic">10</text>
<rect x="426.9" y="109.6" width="48" height="48.2" fill="#fff" stroke="#8c8c8c" stroke-width="0.8"/>
<line x1="448.5" y1="109.6" x2="448.5" y2="157.8" stroke="#b0b0b0" stroke-width="0.6"/>
<line x1="426.9" y1="142.1" x2="474.9" y2="142.1" stroke="#b0b0b0" stroke-width="0.6"/>
<text x="428.9" y="113.2" font-size="2.6" fill="#999">Q1</text>
<text x="472.9" y="113.2" font-size="2.6" text-anchor="end" fill="#999">Q2</text>
<text x="428.9" y="156.6" font-size="2.6" fill="#999">Q3</text>
<text x="472.9" y="156.6" font-size="2.6" text-anchor="end" fill="#999">Q4</text>
<line x1="425.7" y1="153.8" x2="426.9" y2="153.8" stroke="#999" stroke-width="0.5"/>
<text x="425.1" y="154.8" font-size="2.8" text-anchor="end" fill="#555" font-style="italic">10</text>
<line x1="425.7" y1="143.3" x2="426.9" y2="143.3" stroke="#999" stroke-width="0.5"/>
<text x="425.1" y="144.3" font-size="2.8" text-anchor="end" fill="#555" font-style="italic">10</text>
<line x1="425.7" y1="132.8" x2="426.9" y2="132.8" stroke="#999" stroke-width="0.5"/>
<text x="425.1" y="133.8" font-size="2.8" text-anchor="end" fill="#555" font-style="italic">10</text>
<line x1="425.7" y1="122.3" x2="426.9" y2="122.3" stroke="#999" stroke-width="0.5"/>
<text x="425.1" y="123.3" font-size="2.8" text-anchor="end" fill="#555" font-style="italic">10</text>
<line x1="425.7" y1="111.8" x2="426.9" y2="111.8" stroke="#999" stroke-width="0.5"/>
<text x="425.1" y="112.8" font-size="2.8" text-anchor="end" fill="#555" font-style="italic">10</text>
<line x1="430.9" y1="157.8" x2="430.9" y2="159" stroke="#999" stroke-width="0.5"/>
<text x="431.7" y="163.4" font-size="2.8" text-anchor="middle" fill="#555" font-style="italic">10</text>
<line x1="441.4" y1="157.8" x2="441.4" y2="159" stroke="#999" stroke-width="0.5"/>
<text x="442.2" y="163.4" font-size="2.8" text-anchor="middle" fill="#555" font-style="italic">10</text>
<line x1="451.9" y1="157.8" x2="451.9" y2="159" stroke="#999" stroke-width="0.5"/>
<text x="452.7" y="163.4" font-size="2.8" text-anchor="middle" fill="#555" font-style="italic">10</text>
<line x1="462.4" y1="157.8" x2="462.4" y2="159" stroke="#999" stroke-width="0.5"/>
<text x="463.2" y="163.4" font-size="2.8" text-anchor="middle" fill="#555" font-style="italic">10</text>
<line x1="472.9" y1="157.8" x2="472.9" y2="159" stroke="#999" stroke-width="0.5"/>
<text x="473.7" y="163.4" font-size="2.8" text-anchor="middle" fill="#555" font-style="italic">10</text>
<rect x="308.4" y="167.7" width="48" height="48.2" fill="#fff" stroke="#8c8c8c" stroke-width="0.8"/>
<line x1="330" y1="167.7" x2="330" y2="215.9" stroke="#b0b0b0" stroke-width="0.6"/>
<line x1="308.4" y1="200.2" x2="356.4" y2="200.2" stroke="#b0b0b0" stroke-width="0.6"/>
<text x="310.4" y="171.3" font-size="2.6" fill="#999">Q1</text>
<text x="354.4" y="171.3" font-size="2.6" text-anchor="end" fill="#999">Q2</text>
<text x="310.4" y="214.7" font-size="2.6" fill="#999">Q3</text>
<text x="354.4" y="214.7" font-size="2.6" text-anchor="end" fill="#999">Q4</text>
<line x1="307.2" y1="211.9" x2="308.4" y2="211.9" stroke="#999" stroke-width="0.5"/>
<text x="306.6" y="212.9" font-size="2.8" text-anchor="end" fill="#555" font-style="italic">10</text>
<line x1="307.2" y1="201.4" x2="308.4" y2="201.4" stroke="#999" stroke-width="0.5"/>
<text x="306.6" y="202.4" font-size="2.8" text-anchor="end" fill="#555" font-style="italic">10</text>
<line x1="307.2" y1="190.9" x2="308.4" y2="190.9" stroke="#999" stroke-width="0.5"/>
<text x="306.6" y="191.9" font-size="2.8" text-anchor="end" fill="#555" font-style="italic">10</text>
<line x1="307.2" y1="180.4" x2="308.4" y2="180.4" stroke="#999" stroke-width="0.5"/>
<text x="306.6" y="181.4" font-size="2.8" text-anchor="end" fill="#555" font-style="italic">10</text>
<line x1="307.2" y1="169.9" x2="308.4" y2="169.9" stroke="#999" stroke-width="0.5"/>
<text x="306.6" y="170.9" font-size="2.8" text-anchor="end" fill="#555" font-style="italic">10</text>
<line x1="312.4" y1="215.9" x2="312.4" y2="217.1" stroke="#999" stroke-width="0.5"/>
<text x="313.2" y="221.5" font-size="2.8" text-anchor="middle" fill="#555" font-style="italic">10</text>
<line x1="322.9" y1="215.9" x2="322.9" y2="217.1" stroke="#999" stroke-width="0.5"/>
<text x="323.7" y="221.5" font-size="2.8" text-anchor="middle" fill="#555" font-style="italic">10</text>
<line x1="333.4" y1="215.9" x2="333.4" y2="217.1" stroke="#999" stroke-width="0.5"/>
<text x="334.2" y="221.5" font-size="2.8" text-anchor="middle" fill="#555" font-style="italic">10</text>
<line x1="343.9" y1="215.9" x2="343.9" y2="217.1" stroke="#999" stroke-width="0.5"/>
<text x="344.7" y="221.5" font-size="2.8" text-anchor="middle" fill="#555" font-style="italic">10</text>
<line x1="354.4" y1="215.9" x2="354.4" y2="217.1" stroke="#999" stroke-width="0.5"/>
<text x="355.2" y="221.5" font-size="2.8" text-anchor="middle" fill="#555" font-style="italic">10</text>
<rect x="366.9" y="167.7" width="48" height="48.2" fill="#fff" stroke="#8c8c8c" stroke-width="0.8"/>
<line x1="388.5" y1="167.7" x2="388.5" y2="215.9" stroke="#b0b0b0" stroke-width="0.6"/>
<line x1="366.9" y1="200.2" x2="414.9" y2="200.2" stroke="#b0b0b0" stroke-width="0.6"/>
<text x="368.9" y="171.3" font-size="2.6" fill="#999">Q1</text>
<text x="412.9" y="171.3" font-size="2.6" text-anchor="end" fill="#999">Q2</text>
<text x="368.9" y="214.7" font-size="2.6" fill="#999">Q3</text>
<text x="412.9" y="214.7" font-size="2.6" text-anchor="end" fill="#999">Q4</text>
<line x1="365.7" y1="211.9" x2="366.9" y2="211.9" stroke="#999" stroke-width="0.5"/>
<text x="365.1" y="212.9" font-size="2.8" text-anchor="end" fill="#555" font-style="italic">10</text>
<line x1="365.7" y1="201.4" x2="366.9" y2="201.4" stroke="#999" stroke-width="0.5"/>
<text x="365.1" y="202.4" font-size="2.8" text-anchor="end" fill="#555" font-style="italic">10</text>
<line x1="365.7" y1="190.9" x2="366.9" y2="190.9" stroke="#999" stroke-width="0.5"/>
<text x="365.1" y="191.9" font-size="2.8" text-anchor="end" fill="#555" font-style="italic">10</text>
<line x1="365.7" y1="180.4" x2="366.9" y2="180.4" stroke="#999" stroke-width="0.5"/>
<text x="365.1" y="181.4" font-size="2.8" text-anchor="end" fill="#555" font-style="italic">10</text>
<line x1="365.7" y1="169.9" x2="366.9" y2="169.9" stroke="#999" stroke-width="0.5"/>
<text x="365.1" y="170.9" font-size="2.8" text-anchor="end" fill="#555" font-style="italic">10</text>
<line x1="370.9" y1="215.9" x2="370.9" y2="217.1" stroke="#999" stroke-width="0.5"/>
<text x="371.7" y="221.5" font-size="2.8" text-anchor="middle" fill="#555" font-style="italic">10</text>
<line x1="381.4" y1="215.9" x2="381.4" y2="217.1" stroke="#999" stroke-width="0.5"/>
<text x="382.2" y="221.5" font-size="2.8" text-anchor="middle" fill="#555" font-style="italic">10</text>
<line x1="391.9" y1="215.9" x2="391.9" y2="217.1" stroke="#999" stroke-width="0.5"/>
<text x="392.7" y="221.5" font-size="2.8" text-anchor="middle" fill="#555" font-style="italic">10</text>
<line x1="402.4" y1="215.9" x2="402.4" y2="217.1" stroke="#999" stroke-width="0.5"/>
<text x="403.2" y="221.5" font-size="2.8" text-anchor="middle" fill="#555" font-style="italic">10</text>
<line x1="412.9" y1="215.9" x2="412.9" y2="217.1" stroke="#999" stroke-width="0.5"/>
<text x="413.7" y="221.5" font-size="2.8" text-anchor="middle" fill="#555" font-style="italic">10</text>
<rect x="426.9" y="167.7" width="48" height="48.2" fill="#fff" stroke="#8c8c8c" stroke-width="0.8"/>
<line x1="448.5" y1="167.7" x2="448.5" y2="215.9" stroke="#b0b0b0" stroke-width="0.6"/>
<line x1="426.9" y1="200.2" x2="474.9" y2="200.2" stroke="#b0b0b0" stroke-width="0.6"/>
<text x="428.9" y="171.3" font-size="2.6" fill="#999">Q1</text>
<text x="472.9" y="171.3" font-size="2.6" text-anchor="end" fill="#999">Q2</text>
<text x="428.9" y="214.7" font-size="2.6" fill="#999">Q3</text>
<text x="472.9" y="214.7" font-size="2.6" text-anchor="end" fill="#999">Q4</text>
<line x1="425.7" y1="211.9" x2="426.9" y2="211.9" stroke="#999" stroke-width="0.5"/>
<text x="425.1" y="212.9" font-size="2.8" text-anchor="end" fill="#555" font-style="italic">10</text>
<line x1="425.7" y1="201.4" x2="426.9" y2="201.4" stroke="#999" stroke-width="0.5"/>
<text x="425.1" y="202.4" font-size="2.8" text-anchor="end" fill="#555" font-style="italic">10</text>
<line x1="425.7" y1="190.9" x2="426.9" y2="190.9" stroke="#999" stroke-width="0.5"/>
<text x="425.1" y="191.9" font-size="2.8" text-anchor="end" fill="#555" font-style="italic">10</text>
<line x1="425.7" y1="180.4" x2="426.9" y2="180.4" stroke="#999" stroke-width="0.5"/>
<text x="425.1" y="181.4" font-size="2.8" text-anchor="end" fill="#555" font-style="italic">10</text>
<line x1="425.7" y1="169.9" x2="426.9" y2="169.9" stroke="#999" stroke-width="0.5"/>
<text x="425.1" y="170.9" font-size="2.8" text-anchor="end" fill="#555" font-style="italic">10</text>
<line x1="430.9" y1="215.9" x2="430.9" y2="217.1" stroke="#999" stroke-width="0.5"/>
<text x="431.7" y="221.5" font-size="2.8" text-anchor="middle" fill="#555" font-style="italic">10</text>
<line x1="441.4" y1="215.9" x2="441.4" y2="217.1" stroke="#999" stroke-width="0.5"/>
<text x="442.2" y="221.5" font-size="2.8" text-anchor="middle" fill="#555" font-style="italic">10</text>
<line x1="451.9" y1="215.9" x2="451.9" y2="217.1" stroke="#999" stroke-width="0.5"/>
<text x="452.7" y="221.5" font-size="2.8" text-anchor="middle" fill="#555" font-style="italic">10</text>
<line x1="462.4" y1="215.9" x2="462.4" y2="217.1" stroke="#999" stroke-width="0.5"/>
<text x="463.2" y="221.5" font-size="2.8" text-anchor="middle" fill="#555" font-style="italic">10</text>
<line x1="472.9" y1="215.9" x2="472.9" y2="217.1" stroke="#999" stroke-width="0.5"/>
<text x="473.7" y="221.5" font-size="2.8" text-anchor="middle" fill="#555" font-style="italic">10</text>
<g filter="url(#bl)">
<path d="M331.81,124.24 C331.6,124.54 331.61,125.34 331.7,125.76 C331.78,126.19 331.93,126.48 332.34,126.79 C332.76,127.11 333.51,127.51 334.17,127.67 C334.84,127.82 335.94,127.46 336.35,127.73 C336.76,127.99 336.33,128.89 336.62,129.28 C336.92,129.66 337.92,129.76 338.13,130.04 C338.34,130.33 337.82,130.64 337.88,130.99 C337.94,131.34 338.49,131.79 338.48,132.12 C338.48,132.46 338.15,132.73 337.85,132.98 C337.56,133.22 336.98,133.23 336.72,133.6 C336.46,133.96 336.6,134.76 336.28,135.18 C335.97,135.6 335.26,135.94 334.83,136.12 C334.4,136.3 334.05,136.01 333.71,136.26 C333.37,136.5 333.12,137.22 332.78,137.59 C332.45,137.95 332.11,138.29 331.68,138.45 C331.25,138.6 330.82,138.62 330.21,138.51 C329.59,138.4 328.75,137.77 328,137.79 C327.25,137.81 326.29,138.49 325.71,138.63 C325.13,138.78 324.92,138.62 324.5,138.66 C324.08,138.7 323.69,138.76 323.18,138.85 C322.67,138.94 321.96,139.06 321.44,139.22 C320.91,139.37 320.46,139.42 320.02,139.76 C319.58,140.09 319.35,141 318.8,141.24 C318.24,141.49 317.18,140.91 316.69,141.21 C316.2,141.52 316.35,142.61 315.86,143.08 C315.37,143.56 314.26,143.74 313.76,144.06 C313.25,144.38 313.08,144.67 312.83,145.02 C312.58,145.36 312.53,145.71 312.27,146.13 C312.01,146.55 311.47,147.07 311.28,147.56 C311.1,148.04 311.07,148.59 311.16,149.03 C311.25,149.47 311.52,149.85 311.83,150.22 C312.14,150.58 312.6,150.94 313.03,151.24 C313.46,151.54 313.95,151.78 314.43,152.01 C314.9,152.23 315.26,152.47 315.87,152.6 C316.47,152.72 317.36,152.6 318.05,152.78 C318.73,152.96 319.41,153.69 319.97,153.66 C320.53,153.64 320.95,152.8 321.41,152.63 C321.88,152.47 322.26,152.76 322.76,152.67 C323.26,152.58 323.87,152.26 324.39,152.07 C324.91,151.89 325.25,151.65 325.86,151.56 C326.46,151.48 327.31,151.69 328.04,151.55 C328.77,151.41 329.59,150.72 330.25,150.72 C330.91,150.73 331.37,151.58 332,151.59 C332.63,151.59 333.45,150.68 334,150.75 C334.55,150.81 334.85,151.79 335.31,151.98 C335.76,152.18 336.27,151.8 336.71,151.9 C337.14,151.99 337.54,152.39 337.92,152.57 C338.3,152.74 338.54,152.93 338.99,152.96 C339.44,152.98 340.08,152.96 340.61,152.74 C341.15,152.53 341.71,151.94 342.21,151.67 C342.72,151.4 343.18,151.4 343.65,151.12 C344.11,150.85 344.61,150.55 345.01,150.02 C345.41,149.49 345.55,148.5 346.03,147.93 C346.51,147.36 347.41,147.1 347.87,146.6 C348.32,146.11 348.64,145.59 348.78,144.97 C348.91,144.35 348.64,143.65 348.68,142.88 C348.71,142.12 349.04,141.22 349,140.38 C348.95,139.53 348.38,138.65 348.4,137.83 C348.43,137 349.02,136.3 349.15,135.44 C349.28,134.58 349.24,133.52 349.17,132.68 C349.09,131.84 348.79,131.23 348.72,130.4 C348.65,129.57 348.8,128.36 348.75,127.68 C348.7,127 348.58,126.79 348.4,126.32 C348.23,125.86 348.14,125.22 347.7,124.88 C347.27,124.53 346.37,124.44 345.79,124.25 C345.21,124.07 345,123.92 344.2,123.78 C343.4,123.65 342.03,123.45 341,123.45 C339.97,123.44 338.86,123.61 338.03,123.77 C337.2,123.93 336.7,124.33 336,124.41 C335.3,124.48 334.34,124.31 333.83,124.23 C333.32,124.16 333.29,123.96 332.95,123.96 C332.61,123.96 332.02,123.94 331.81,124.24Z" fill="#1e64ff" stroke="#0b2cf2" stroke-width="2.3" stroke-linejoin="round"/>
<ellipse cx="343.5" cy="128.9" rx="3.8" ry="2.6" fill="#1e64ff"/>
<path d="M313.72,147.98 C313.79,147.61 314.79,147.29 315.05,146.87 C315.31,146.45 315.02,145.87 315.29,145.45 C315.56,145.03 316.22,144.73 316.67,144.35 C317.12,143.97 317.47,143.61 317.99,143.17 C318.52,142.73 319.11,142.01 319.83,141.69 C320.54,141.37 321.5,141.38 322.27,141.23 C323.05,141.08 323.73,140.95 324.48,140.8 C325.23,140.65 325.92,140.53 326.75,140.35 C327.58,140.16 328.54,139.76 329.45,139.69 C330.37,139.62 331.49,140.04 332.26,139.93 C333.02,139.81 333.47,139.37 334.05,139.01 C334.64,138.64 335.13,138.13 335.76,137.75 C336.4,137.38 337.31,137.19 337.86,136.76 C338.41,136.33 338.72,135.69 339.05,135.18 C339.37,134.67 339.49,134.1 339.82,133.72 C340.14,133.33 340.53,133.01 340.98,132.88 C341.44,132.75 342.01,133.02 342.55,132.94 C343.09,132.85 343.72,132.33 344.21,132.37 C344.7,132.41 345,132.89 345.49,133.18 C345.97,133.46 346.88,133.64 347.12,134.09 C347.35,134.55 346.92,135.24 346.9,135.9 C346.88,136.56 347.03,137.3 346.99,138.05 C346.95,138.8 346.61,139.57 346.65,140.4 C346.69,141.23 347.23,142.22 347.2,143.01 C347.17,143.8 346.83,144.53 346.47,145.13 C346.11,145.74 345.57,146.19 345.04,146.65 C344.51,147.11 343.81,147.43 343.28,147.89 C342.76,148.35 342.44,149.2 341.88,149.43 C341.33,149.66 340.62,149.18 339.95,149.28 C339.29,149.37 338.59,149.88 337.91,149.99 C337.22,150.11 336.49,150.2 335.86,149.98 C335.22,149.75 334.79,148.74 334.07,148.67 C333.35,148.6 332.4,149.41 331.54,149.55 C330.68,149.68 329.76,149.39 328.91,149.46 C328.07,149.54 327.31,149.76 326.45,150 C325.59,150.23 324.57,150.61 323.75,150.85 C322.93,151.09 322.31,151.32 321.53,151.45 C320.75,151.58 319.83,151.73 319.08,151.63 C318.33,151.53 317.65,151.03 317.01,150.86 C316.37,150.68 315.63,150.87 315.24,150.58 C314.85,150.28 314.91,149.52 314.66,149.09 C314.4,148.66 313.66,148.35 313.72,147.98Z" fill="#18c8f0" stroke="#30a0ff" stroke-width="2.0" stroke-linejoin="round"/>
<ellipse cx="343.5" cy="139.9" rx="7.5" ry="5.2" fill="url(#hY)" transform="rotate(-10 343.5 139.9)"/>
<ellipse cx="319.8" cy="146.9" rx="9.5" ry="6.4" fill="url(#hR)" transform="rotate(-10 319.8 146.9)"/>
<ellipse cx="331" cy="145.4" rx="5" ry="3" fill="url(#hG)" transform="rotate(-5 331 145.4)"/>
</g>
<g filter="url(#bl)">
<path d="M331.81,182.34 C331.6,182.64 331.61,183.44 331.7,183.86 C331.78,184.29 331.93,184.58 332.34,184.89 C332.76,185.21 333.51,185.61 334.17,185.77 C334.84,185.92 335.94,185.56 336.35,185.83 C336.76,186.09 336.33,186.99 336.62,187.38 C336.92,187.76 337.92,187.86 338.13,188.14 C338.34,188.43 337.82,188.74 337.88,189.09 C337.94,189.44 338.49,189.89 338.48,190.22 C338.48,190.56 338.15,190.83 337.85,191.08 C337.56,191.32 336.98,191.33 336.72,191.7 C336.46,192.06 336.6,192.86 336.28,193.28 C335.97,193.7 335.26,194.04 334.83,194.22 C334.4,194.4 334.05,194.11 333.71,194.36 C333.37,194.6 333.12,195.32 332.78,195.69 C332.45,196.05 332.11,196.39 331.68,196.55 C331.25,196.7 330.82,196.72 330.21,196.61 C329.59,196.5 328.75,195.87 328,195.89 C327.25,195.91 326.29,196.59 325.71,196.73 C325.13,196.88 324.92,196.72 324.5,196.76 C324.08,196.8 323.69,196.86 323.18,196.95 C322.67,197.04 321.96,197.16 321.44,197.32 C320.91,197.47 320.46,197.52 320.02,197.86 C319.58,198.19 319.35,199.1 318.8,199.34 C318.24,199.59 317.18,199.01 316.69,199.31 C316.2,199.62 316.35,200.71 315.86,201.18 C315.37,201.66 314.26,201.84 313.76,202.16 C313.25,202.48 313.08,202.77 312.83,203.12 C312.58,203.46 312.53,203.81 312.27,204.23 C312.01,204.65 311.47,205.17 311.28,205.66 C311.1,206.14 311.07,206.69 311.16,207.13 C311.25,207.57 311.52,207.95 311.83,208.32 C312.14,208.68 312.6,209.04 313.03,209.34 C313.46,209.64 313.95,209.88 314.43,210.11 C314.9,210.33 315.26,210.57 315.87,210.7 C316.47,210.82 317.36,210.7 318.05,210.88 C318.73,211.06 319.41,211.79 319.97,211.76 C320.53,211.74 320.95,210.9 321.41,210.73 C321.88,210.57 322.26,210.86 322.76,210.77 C323.26,210.68 323.87,210.36 324.39,210.17 C324.91,209.99 325.25,209.75 325.86,209.66 C326.46,209.58 327.31,209.79 328.04,209.65 C328.77,209.51 329.59,208.82 330.25,208.82 C330.91,208.83 331.37,209.68 332,209.69 C332.63,209.69 333.45,208.78 334,208.85 C334.55,208.91 334.85,209.89 335.31,210.08 C335.76,210.28 336.27,209.9 336.71,210 C337.14,210.09 337.54,210.49 337.92,210.67 C338.3,210.84 338.54,211.03 338.99,211.06 C339.44,211.08 340.08,211.06 340.61,210.84 C341.15,210.63 341.71,210.04 342.21,209.77 C342.72,209.5 343.18,209.5 343.65,209.22 C344.11,208.95 344.61,208.65 345.01,208.12 C345.41,207.59 345.55,206.6 346.03,206.03 C346.51,205.46 347.41,205.2 347.87,204.7 C348.32,204.21 348.64,203.69 348.78,203.07 C348.91,202.45 348.64,201.75 348.68,200.98 C348.71,200.22 349.04,199.32 349,198.48 C348.95,197.63 348.38,196.75 348.4,195.93 C348.43,195.1 349.02,194.4 349.15,193.54 C349.28,192.68 349.24,191.62 349.17,190.78 C349.09,189.94 348.79,189.33 348.72,188.5 C348.65,187.67 348.8,186.46 348.75,185.78 C348.7,185.1 348.58,184.89 348.4,184.42 C348.23,183.96 348.14,183.32 347.7,182.98 C347.27,182.63 346.37,182.54 345.79,182.35 C345.21,182.17 345,182.02 344.2,181.88 C343.4,181.75 342.03,181.55 341,181.55 C339.97,181.54 338.86,181.71 338.03,181.87 C337.2,182.03 336.7,182.43 336,182.51 C335.3,182.58 334.34,182.41 333.83,182.33 C333.32,182.26 333.29,182.06 332.95,182.06 C332.61,182.06 332.02,182.04 331.81,182.34Z" fill="#1e64ff" stroke="#0b2cf2" stroke-width="2.3" stroke-linejoin="round"/>
<ellipse cx="343.5" cy="187" rx="3.8" ry="2.6" fill="#1e64ff"/>
<path d="M313.72,206.08 C313.79,205.71 314.79,205.39 315.05,204.97 C315.31,204.55 315.02,203.97 315.29,203.55 C315.56,203.13 316.22,202.83 316.67,202.45 C317.12,202.07 317.47,201.71 317.99,201.27 C318.52,200.83 319.11,200.11 319.83,199.79 C320.54,199.47 321.5,199.48 322.27,199.33 C323.05,199.18 323.73,199.05 324.48,198.9 C325.23,198.75 325.92,198.63 326.75,198.45 C327.58,198.26 328.54,197.86 329.45,197.79 C330.37,197.72 331.49,198.14 332.26,198.03 C333.02,197.91 333.47,197.47 334.05,197.11 C334.64,196.74 335.13,196.23 335.76,195.85 C336.4,195.48 337.31,195.29 337.86,194.86 C338.41,194.43 338.72,193.79 339.05,193.28 C339.37,192.77 339.49,192.2 339.82,191.82 C340.14,191.43 340.53,191.11 340.98,190.98 C341.44,190.85 342.01,191.12 342.55,191.04 C343.09,190.95 343.72,190.43 344.21,190.47 C344.7,190.51 345,190.99 345.49,191.28 C345.97,191.56 346.88,191.74 347.12,192.19 C347.35,192.65 346.92,193.34 346.9,194 C346.88,194.66 347.03,195.4 346.99,196.15 C346.95,196.9 346.61,197.67 346.65,198.5 C346.69,199.33 347.23,200.32 347.2,201.11 C347.17,201.9 346.83,202.63 346.47,203.23 C346.11,203.84 345.57,204.29 345.04,204.75 C344.51,205.21 343.81,205.53 343.28,205.99 C342.76,206.45 342.44,207.3 341.88,207.53 C341.33,207.76 340.62,207.28 339.95,207.38 C339.29,207.47 338.59,207.98 337.91,208.09 C337.22,208.21 336.49,208.3 335.86,208.08 C335.22,207.85 334.79,206.84 334.07,206.77 C333.35,206.7 332.4,207.51 331.54,207.65 C330.68,207.78 329.76,207.49 328.91,207.56 C328.07,207.64 327.31,207.86 326.45,208.1 C325.59,208.33 324.57,208.71 323.75,208.95 C322.93,209.19 322.31,209.42 321.53,209.55 C320.75,209.68 319.83,209.83 319.08,209.73 C318.33,209.63 317.65,209.13 317.01,208.96 C316.37,208.78 315.63,208.97 315.24,208.68 C314.85,208.38 314.91,207.62 314.66,207.19 C314.4,206.76 313.66,206.45 313.72,206.08Z" fill="#18c8f0" stroke="#30a0ff" stroke-width="2.0" stroke-linejoin="round"/>
<ellipse cx="343.5" cy="198" rx="7.5" ry="5.2" fill="url(#hY)" transform="rotate(-10 343.5 198)"/>
<ellipse cx="319.8" cy="205" rx="9.5" ry="6.4" fill="url(#hR)" transform="rotate(-10 319.8 205)"/>
<ellipse cx="331" cy="203.5" rx="5" ry="3" fill="url(#hG)" transform="rotate(-5 331 203.5)"/>
</g>
<g filter="url(#bl)">
<path d="M394.03,126.05 C394.07,125.63 394.36,125 394.65,124.78 C394.94,124.57 395.1,124.76 395.75,124.76 C396.4,124.76 397.63,124.96 398.55,124.77 C399.48,124.59 400.48,123.9 401.31,123.67 C402.13,123.44 402.67,123.28 403.5,123.37 C404.33,123.45 405.61,124.06 406.3,124.19 C406.98,124.32 407.16,124 407.61,124.16 C408.07,124.32 408.79,124.7 409.02,125.12 C409.24,125.54 408.84,126.24 408.95,126.68 C409.06,127.13 409.41,127.23 409.68,127.78 C409.96,128.33 410.51,129.35 410.6,130 C410.69,130.65 410.32,131.01 410.21,131.7 C410.1,132.39 409.78,133.44 409.92,134.14 C410.06,134.85 410.8,135.13 411.07,135.93 C411.33,136.74 411.54,138.02 411.53,139 C411.52,139.98 411.1,140.98 411.01,141.83 C410.92,142.69 411.22,143.44 411,144.13 C410.78,144.81 410.04,145.43 409.66,145.97 C409.29,146.5 409.03,146.84 408.76,147.34 C408.49,147.84 408.31,148.51 408.04,148.97 C407.77,149.44 407.49,149.82 407.13,150.13 C406.77,150.44 406.19,150.5 405.87,150.85 C405.55,151.2 405.54,151.85 405.22,152.22 C404.91,152.6 404.31,152.76 403.99,153.08 C403.67,153.4 403.57,153.9 403.28,154.13 C403,154.36 402.84,154.45 402.29,154.46 C401.75,154.46 400.77,154.17 400.01,154.15 C399.25,154.12 398.49,154.37 397.74,154.31 C396.98,154.26 396.26,153.94 395.49,153.81 C394.72,153.69 393.95,153.56 393.12,153.56 C392.28,153.57 391.33,153.9 390.5,153.83 C389.67,153.76 388.87,153.21 388.11,153.15 C387.35,153.09 386.69,153.38 385.97,153.49 C385.24,153.6 384.5,153.69 383.76,153.81 C383.01,153.93 382.27,154.01 381.49,154.18 C380.71,154.35 379.81,154.9 379.07,154.83 C378.34,154.77 377.76,153.97 377.06,153.8 C376.35,153.63 375.44,153.94 374.84,153.82 C374.24,153.69 373.99,153.4 373.46,153.06 C372.93,152.73 371.89,152.25 371.67,151.81 C371.44,151.38 372.17,150.86 372.11,150.44 C372.04,150.02 371.2,149.72 371.29,149.31 C371.38,148.9 372.36,148.4 372.63,147.98 C372.9,147.56 372.5,147.17 372.88,146.8 C373.26,146.43 374.35,146.21 374.92,145.75 C375.49,145.3 375.83,144.46 376.32,144.08 C376.8,143.7 377.31,143.8 377.81,143.47 C378.31,143.14 378.9,142.55 379.31,142.1 C379.71,141.65 379.82,140.97 380.25,140.75 C380.68,140.54 381.28,140.87 381.91,140.81 C382.53,140.75 383.33,140.47 384,140.42 C384.67,140.37 385.24,140.59 385.9,140.52 C386.56,140.45 387.24,140.04 387.97,140 C388.7,139.96 389.64,140.47 390.28,140.29 C390.93,140.1 391.21,139.14 391.84,138.88 C392.48,138.61 393.5,138.85 394.11,138.7 C394.71,138.55 394.96,138.3 395.48,137.97 C396,137.64 396.81,137.09 397.24,136.71 C397.66,136.33 397.93,136.18 398.05,135.68 C398.18,135.19 398.08,134.25 397.98,133.72 C397.89,133.19 397.61,132.92 397.49,132.5 C397.37,132.09 397.45,131.75 397.26,131.25 C397.07,130.75 396.7,129.9 396.32,129.49 C395.95,129.08 395.35,129.17 395.03,128.8 C394.7,128.44 394.53,127.76 394.36,127.3 C394.2,126.85 393.98,126.47 394.03,126.05Z" fill="#1e64ff" stroke="#0b2cf2" stroke-width="2.3" stroke-linejoin="round"/>
<path d="M373.94,150.08 C373.67,149.55 373.91,148.85 374.08,148.36 C374.24,147.87 374.4,147.47 374.93,147.16 C375.45,146.84 376.56,146.86 377.23,146.46 C377.89,146.05 378.22,145.09 378.92,144.72 C379.62,144.35 380.62,144.37 381.45,144.26 C382.28,144.15 382.95,144.13 383.89,144.06 C384.82,144 386,144.07 387.06,143.87 C388.12,143.68 389.27,143.26 390.23,142.9 C391.2,142.54 391.9,141.92 392.86,141.71 C393.83,141.49 395.31,141.97 396.04,141.61 C396.77,141.25 396.75,140.17 397.24,139.53 C397.73,138.88 398.62,138.44 398.97,137.76 C399.32,137.09 399.16,136.25 399.36,135.47 C399.56,134.7 400.06,133.94 400.16,133.1 C400.26,132.27 399.87,131.3 399.94,130.47 C400.01,129.64 400.15,128.55 400.57,128.15 C400.98,127.74 401.85,128.28 402.41,128.05 C402.96,127.82 403.31,126.76 403.9,126.76 C404.49,126.76 405.3,127.67 405.97,128.06 C406.63,128.46 407.53,128.47 407.89,129.14 C408.24,129.81 407.94,131.06 408.1,132.07 C408.26,133.07 408.66,134.11 408.84,135.18 C409.03,136.25 409.19,137.33 409.21,138.5 C409.23,139.67 409.09,141.23 408.96,142.19 C408.84,143.15 408.82,143.57 408.48,144.24 C408.15,144.91 407.5,145.71 406.96,146.21 C406.42,146.72 405.77,146.79 405.27,147.27 C404.76,147.75 404.49,148.81 403.93,149.09 C403.36,149.37 402.5,148.83 401.87,148.97 C401.24,149.12 400.97,149.69 400.16,149.95 C399.35,150.21 398.04,150.5 397,150.54 C395.96,150.59 394.89,150.22 393.9,150.22 C392.9,150.21 392.03,150.49 391.02,150.5 C390.01,150.5 388.74,150.16 387.82,150.25 C386.91,150.34 386.27,150.85 385.51,151.03 C384.74,151.21 384.06,151.28 383.22,151.32 C382.38,151.37 381.29,151.21 380.45,151.29 C379.62,151.36 378.99,151.74 378.21,151.78 C377.42,151.82 376.45,151.81 375.74,151.53 C375.03,151.24 374.22,150.61 373.94,150.08Z" fill="#18c8f0" stroke="#30a0ff" stroke-width="2.0" stroke-linejoin="round"/>
<ellipse cx="406.3" cy="138.3" rx="7" ry="8.4" fill="url(#hR)" transform="rotate(0 406.3 138.3)"/>
<ellipse cx="380" cy="148.3" rx="8.5" ry="5.4" fill="url(#hR2)" transform="rotate(-8 380 148.3)"/>
<ellipse cx="393" cy="144.5" rx="6" ry="3" fill="url(#hG)" transform="rotate(-10 393 144.5)"/>
</g>
<g filter="url(#bl)">
<path d="M444.76,119.96 C445.08,119.6 445.78,119.05 446.41,118.8 C447.04,118.56 447.71,118.66 448.53,118.49 C449.36,118.31 450.46,117.87 451.36,117.74 C452.26,117.62 452.99,117.78 453.93,117.72 C454.88,117.66 456.06,117.4 457.05,117.37 C458.04,117.35 458.98,117.45 459.85,117.56 C460.72,117.67 461.45,117.82 462.25,118.03 C463.05,118.23 464.1,118.45 464.66,118.81 C465.22,119.17 465.43,119.63 465.62,120.17 C465.81,120.72 465.81,121.43 465.79,122.07 C465.77,122.71 465.67,123.37 465.48,124.03 C465.3,124.7 464.86,125.4 464.69,126.06 C464.51,126.71 464.51,127.38 464.44,127.95 C464.37,128.53 464.35,128.82 464.28,129.5 C464.21,130.18 463.93,131.19 464.02,132.02 C464.11,132.85 464.67,133.72 464.83,134.45 C464.98,135.19 464.88,135.8 464.94,136.45 C465,137.1 465.47,137.8 465.17,138.35 C464.87,138.9 463.67,139.21 463.14,139.74 C462.61,140.27 462.57,141.24 462,141.53 C461.42,141.83 460.38,141.35 459.69,141.5 C459,141.65 458.55,142.14 457.83,142.45 C457.11,142.76 456.21,143.17 455.37,143.34 C454.54,143.52 453.54,143.24 452.81,143.51 C452.08,143.79 451.75,144.78 451.01,145 C450.27,145.22 449.06,144.71 448.38,144.84 C447.7,144.98 447.5,145.47 446.93,145.81 C446.36,146.15 445.52,146.5 444.98,146.9 C444.43,147.29 444.19,147.81 443.65,148.19 C443.12,148.57 442.39,148.78 441.76,149.17 C441.13,149.55 440.42,149.97 439.85,150.5 C439.28,151.02 438.87,151.86 438.36,152.31 C437.85,152.76 437.28,152.89 436.77,153.2 C436.26,153.51 435.97,154.13 435.31,154.17 C434.64,154.21 433.55,153.58 432.77,153.45 C431.99,153.32 431.15,153.63 430.62,153.39 C430.09,153.15 429.89,152.43 429.62,152.02 C429.34,151.61 428.91,151.48 428.98,150.94 C429.05,150.4 429.83,149.48 430.03,148.76 C430.24,148.05 429.85,147.33 430.21,146.64 C430.57,145.95 431.59,145.32 432.17,144.62 C432.74,143.93 432.95,143 433.67,142.47 C434.39,141.94 435.7,142 436.49,141.45 C437.28,140.89 437.69,139.65 438.41,139.15 C439.12,138.65 440.05,138.85 440.8,138.44 C441.54,138.02 442.21,137.08 442.89,136.68 C443.57,136.28 444.22,136.26 444.86,136.05 C445.5,135.84 446.15,135.8 446.72,135.43 C447.29,135.07 447.98,134.43 448.26,133.85 C448.53,133.28 448.35,132.67 448.38,131.97 C448.4,131.27 448.52,130.36 448.41,129.64 C448.29,128.92 447.9,128.3 447.68,127.65 C447.47,127 447.32,126.37 447.12,125.71 C446.92,125.06 446.76,124.2 446.47,123.7 C446.18,123.2 445.82,122.99 445.38,122.72 C444.95,122.44 443.99,122.34 443.84,122.05 C443.7,121.77 444.35,121.34 444.5,120.99 C444.65,120.65 444.45,120.33 444.76,119.96Z" fill="#1e64ff" stroke="#0b2cf2" stroke-width="2.3" stroke-linejoin="round"/>
<ellipse cx="444.1" cy="129.7" rx="1.3" ry="2" fill="#0b2cf2"/>
<path d="M432.77,148.61 C432.87,148.08 433.89,147.27 434.47,146.57 C435.05,145.88 435.53,145.03 436.25,144.45 C436.96,143.87 438.04,143.62 438.77,143.09 C439.51,142.56 439.89,141.92 440.65,141.27 C441.41,140.63 442.4,139.8 443.33,139.23 C444.27,138.67 445.52,138.38 446.24,137.89 C446.96,137.39 447.05,136.72 447.65,136.28 C448.25,135.84 449.45,135.87 449.83,135.23 C450.21,134.59 449.82,133.41 449.94,132.44 C450.07,131.47 450.53,130.34 450.6,129.41 C450.66,128.48 450.34,127.78 450.31,126.87 C450.29,125.97 450.12,124.65 450.47,123.98 C450.82,123.3 451.8,123.34 452.42,122.83 C453.03,122.33 453.28,121.25 454.15,120.96 C455.01,120.68 456.43,121.07 457.6,121.13 C458.77,121.19 460.42,121.07 461.15,121.32 C461.89,121.58 461.7,122.27 462.01,122.67 C462.32,123.07 462.8,123 463.04,123.71 C463.27,124.41 463.44,125.9 463.41,126.89 C463.38,127.88 462.87,128.62 462.85,129.64 C462.83,130.66 463.19,131.86 463.29,133.02 C463.39,134.19 463.81,135.84 463.45,136.62 C463.09,137.39 461.74,137.21 461.13,137.69 C460.52,138.18 460.56,139.13 459.78,139.55 C459,139.96 457.56,139.88 456.46,140.16 C455.36,140.43 454.31,140.91 453.19,141.2 C452.07,141.5 450.86,141.69 449.72,141.93 C448.58,142.18 447.39,142.32 446.36,142.69 C445.33,143.07 444.46,143.73 443.54,144.19 C442.63,144.65 441.65,144.97 440.87,145.45 C440.08,145.92 439.42,146.5 438.83,147.03 C438.25,147.57 437.9,148.17 437.36,148.65 C436.81,149.14 436.18,149.52 435.57,149.95 C434.95,150.38 433.96,151.28 433.67,151.25 C433.39,151.21 434.02,150.18 433.87,149.74 C433.72,149.3 432.67,149.14 432.77,148.61Z" fill="#18c8f0" stroke="#30a0ff" stroke-width="2.0" stroke-linejoin="round"/>
<ellipse cx="456" cy="135.9" rx="12" ry="7.5" fill="url(#hR)" transform="rotate(-8 456 135.9)"/>
<ellipse cx="437" cy="146" rx="8" ry="4.8" fill="url(#hG)" transform="rotate(-38 437 146)"/>
<ellipse cx="457.6" cy="123.5" rx="5.5" ry="3.2" fill="url(#hG)" transform="rotate(0 457.6 123.5)"/>
</g>
<g filter="url(#bl)">
<path d="M392.74,184.78 C392.73,184.46 393.14,184.34 393.47,184.07 C393.8,183.8 394.2,183.23 394.73,183.14 C395.25,183.04 395.96,183.67 396.65,183.51 C397.33,183.34 398.09,182.32 398.85,182.14 C399.61,181.97 400.41,182.37 401.2,182.44 C401.99,182.5 402.9,182.44 403.61,182.55 C404.32,182.65 404.87,182.82 405.44,183.06 C406.02,183.3 406.84,183.56 407.07,183.96 C407.31,184.37 406.7,185.07 406.85,185.49 C407,185.91 407.78,186.06 407.96,186.51 C408.14,186.96 407.89,187.65 407.93,188.2 C407.97,188.75 408.17,189.3 408.21,189.83 C408.25,190.35 408.34,190.78 408.17,191.35 C408,191.92 407.44,192.68 407.18,193.24 C406.91,193.81 406.9,194.36 406.58,194.77 C406.25,195.18 405.82,195.42 405.22,195.7 C404.61,195.99 403.49,196.14 402.94,196.5 C402.38,196.85 402.43,197.38 401.89,197.85 C401.34,198.31 400.44,198.92 399.67,199.29 C398.9,199.65 397.96,199.65 397.29,200.04 C396.62,200.44 396.29,201.38 395.64,201.64 C395,201.89 394.13,201.35 393.41,201.56 C392.69,201.78 392.08,202.65 391.32,202.92 C390.57,203.18 389.52,202.91 388.87,203.15 C388.23,203.38 387.89,203.88 387.46,204.32 C387.04,204.76 386.77,205.3 386.32,205.77 C385.88,206.23 385.31,206.77 384.77,207.12 C384.23,207.46 383.79,207.63 383.09,207.84 C382.38,208.04 381.29,208.05 380.54,208.32 C379.79,208.6 379.26,209.18 378.59,209.48 C377.92,209.79 377.26,210 376.52,210.16 C375.79,210.32 374.87,210.48 374.17,210.45 C373.46,210.43 372.84,210.26 372.29,210.01 C371.74,209.75 371.21,209.41 370.87,208.91 C370.53,208.42 370.31,207.61 370.27,207.05 C370.24,206.49 370.45,206.13 370.67,205.54 C370.89,204.95 371.14,204.01 371.6,203.52 C372.06,203.03 372.78,203.07 373.41,202.61 C374.04,202.16 374.67,201.28 375.38,200.81 C376.1,200.34 376.98,200.14 377.69,199.81 C378.41,199.49 379.05,199.09 379.69,198.86 C380.32,198.63 380.79,198.7 381.5,198.44 C382.2,198.18 383.1,197.63 383.9,197.3 C384.7,196.96 385.6,196.66 386.3,196.44 C387,196.22 387.61,196.35 388.11,195.98 C388.6,195.6 388.77,194.59 389.29,194.21 C389.81,193.83 390.76,193.99 391.21,193.69 C391.66,193.38 391.73,192.87 391.97,192.38 C392.21,191.9 392.27,191.18 392.63,190.76 C392.99,190.34 393.95,190.24 394.12,189.85 C394.3,189.45 393.85,188.86 393.7,188.37 C393.55,187.88 393.27,187.29 393.24,186.89 C393.21,186.48 393.58,186.3 393.5,185.94 C393.41,185.59 392.74,185.09 392.74,184.78Z" fill="#1e64ff" stroke="#0b2cf2" stroke-width="2.3" stroke-linejoin="round"/>
<path d="M373.92,206.76 C373.76,206.3 374.37,205 374.81,204.38 C375.26,203.76 375.84,203.41 376.59,203.05 C377.35,202.69 378.47,202.61 379.33,202.2 C380.19,201.79 380.93,200.95 381.78,200.58 C382.63,200.21 383.51,200.23 384.41,199.98 C385.3,199.72 386.39,199.39 387.16,199.06 C387.92,198.72 388.35,198.3 389,197.95 C389.65,197.6 390.31,197.29 391.06,196.97 C391.8,196.65 392.73,196.51 393.48,196.03 C394.24,195.56 395.07,194.66 395.59,194.11 C396.11,193.55 396.29,193.23 396.61,192.69 C396.93,192.16 397.05,191.4 397.49,190.88 C397.92,190.37 398.65,190.06 399.23,189.6 C399.8,189.14 400.35,188.48 400.94,188.14 C401.53,187.8 402.07,187.68 402.77,187.59 C403.47,187.5 404.6,187.47 405.15,187.6 C405.7,187.72 405.81,187.97 406.07,188.35 C406.33,188.74 406.78,189.38 406.7,189.91 C406.61,190.43 405.91,190.9 405.56,191.51 C405.21,192.13 405.1,193.12 404.61,193.6 C404.11,194.07 403.21,193.91 402.59,194.36 C401.96,194.81 401.63,195.83 400.86,196.29 C400.09,196.75 398.85,196.71 397.96,197.12 C397.08,197.53 396.44,198.37 395.56,198.73 C394.67,199.09 393.52,198.95 392.65,199.28 C391.78,199.62 391.08,200.29 390.33,200.71 C389.58,201.14 388.84,201.5 388.14,201.84 C387.44,202.17 386.78,202.24 386.12,202.7 C385.47,203.17 384.89,204.1 384.2,204.62 C383.51,205.13 382.77,205.49 382.01,205.78 C381.24,206.08 380.3,206.11 379.61,206.38 C378.93,206.65 378.54,207.26 377.9,207.38 C377.25,207.5 376.4,207.19 375.74,207.09 C375.08,206.98 374.07,207.21 373.92,206.76Z" fill="#18c8f0" stroke="#30a0ff" stroke-width="2.0" stroke-linejoin="round"/>
<ellipse cx="402.5" cy="191.4" rx="8" ry="5.6" fill="url(#hR)" transform="rotate(-30 402.5 191.4)"/>
<ellipse cx="378.6" cy="205" rx="8.5" ry="5.6" fill="url(#hR2)" transform="rotate(-20 378.6 205)"/>
<ellipse cx="390.5" cy="198.6" rx="8" ry="3" fill="url(#hG)" transform="rotate(-25 390.5 198.6)"/>
</g>
<g filter="url(#bl)">
<path d="M454.56,183.1 C454.64,182.88 455.53,182.11 456,181.89 C456.48,181.66 456.77,181.81 457.38,181.75 C457.99,181.7 458.9,181.68 459.66,181.54 C460.41,181.4 461.15,181.17 461.93,180.92 C462.7,180.68 463.49,180.17 464.31,180.08 C465.12,180 466.1,180.38 466.81,180.42 C467.52,180.46 468.09,180.23 468.58,180.34 C469.08,180.45 469.4,180.71 469.77,181.09 C470.15,181.46 470.7,181.99 470.83,182.59 C470.95,183.18 470.43,184.02 470.53,184.67 C470.63,185.33 471.31,185.84 471.43,186.52 C471.55,187.21 471.11,188.07 471.25,188.77 C471.38,189.46 472.09,190.02 472.21,190.68 C472.34,191.33 472.08,191.88 471.97,192.69 C471.86,193.49 471.47,194.56 471.56,195.5 C471.66,196.44 472.67,197.61 472.55,198.33 C472.43,199.04 471.23,199.24 470.84,199.78 C470.45,200.31 470.56,200.96 470.22,201.52 C469.87,202.09 469.36,202.73 468.77,203.18 C468.18,203.62 467.42,203.99 466.67,204.2 C465.92,204.41 465.06,204.27 464.27,204.44 C463.49,204.61 462.82,204.96 461.96,205.23 C461.1,205.5 460.02,205.85 459.11,206.08 C458.21,206.3 457.4,206.45 456.52,206.58 C455.63,206.71 454.71,206.69 453.81,206.86 C452.91,207.04 451.87,207.33 451.1,207.62 C450.33,207.91 449.91,208.38 449.18,208.58 C448.46,208.79 447.55,208.6 446.77,208.87 C445.98,209.13 445.29,209.91 444.48,210.16 C443.67,210.41 442.76,210.15 441.88,210.37 C441,210.59 440.13,211.32 439.2,211.49 C438.27,211.65 437.14,211.43 436.32,211.38 C435.5,211.33 434.97,211.43 434.28,211.2 C433.6,210.97 432.61,210.45 432.2,209.99 C431.79,209.53 432.06,208.89 431.82,208.44 C431.57,208 430.88,207.85 430.75,207.31 C430.62,206.77 430.72,205.77 431.03,205.21 C431.34,204.65 432.02,204.32 432.61,203.97 C433.19,203.62 433.83,203.42 434.53,203.12 C435.23,202.81 436.04,202.52 436.8,202.14 C437.56,201.76 438.29,201.14 439.1,200.84 C439.91,200.53 440.78,200.57 441.66,200.32 C442.54,200.06 443.51,199.62 444.37,199.32 C445.23,199.01 445.91,198.62 446.82,198.47 C447.72,198.31 448.84,198.56 449.8,198.39 C450.76,198.21 451.76,197.7 452.58,197.42 C453.4,197.13 454.06,197.1 454.71,196.67 C455.36,196.25 455.88,195.33 456.48,194.85 C457.07,194.37 457.82,194.33 458.3,193.81 C458.79,193.29 459.13,192.38 459.39,191.75 C459.66,191.12 459.8,190.66 459.88,190.02 C459.96,189.38 460.11,188.44 459.89,187.89 C459.67,187.33 458.91,187.13 458.56,186.68 C458.21,186.22 458.13,185.46 457.8,185.14 C457.46,184.83 456.99,185.01 456.56,184.78 C456.13,184.55 455.4,184.04 455.23,183.78 C455.05,183.52 455.61,183.34 455.5,183.22 C455.39,183.11 454.47,183.33 454.56,183.1Z" fill="#1e64ff" stroke="#0b2cf2" stroke-width="2.3" stroke-linejoin="round"/>
<path d="M433.83,206.96 C433.91,206.48 435.04,206.23 435.47,205.68 C435.91,205.12 435.74,204.09 436.43,203.63 C437.12,203.17 438.57,203.19 439.61,202.94 C440.65,202.69 441.64,202.35 442.7,202.12 C443.76,201.89 444.94,201.77 445.97,201.56 C447,201.35 447.8,201.09 448.88,200.87 C449.96,200.64 451.37,200.61 452.44,200.22 C453.51,199.82 454.43,198.91 455.31,198.49 C456.19,198.07 457.02,198.09 457.74,197.69 C458.47,197.3 459.25,196.83 459.67,196.11 C460.1,195.39 460.08,194.22 460.29,193.37 C460.5,192.52 460.74,191.87 460.94,191.01 C461.14,190.14 461.34,189.07 461.5,188.15 C461.66,187.24 461.55,186.14 461.92,185.53 C462.29,184.92 463.1,184.72 463.72,184.48 C464.33,184.23 464.99,183.92 465.62,184.06 C466.24,184.2 466.9,184.87 467.45,185.31 C467.99,185.76 468.5,186.07 468.87,186.71 C469.23,187.36 469.45,188.38 469.65,189.19 C469.84,190.01 469.9,190.65 470.06,191.61 C470.21,192.57 470.57,193.9 470.58,194.95 C470.58,196 470.48,197.13 470.1,197.93 C469.72,198.73 468.79,199.13 468.31,199.75 C467.83,200.37 467.97,201.23 467.22,201.65 C466.46,202.07 464.88,201.98 463.76,202.26 C462.65,202.54 461.57,203 460.54,203.33 C459.51,203.66 458.63,203.96 457.57,204.23 C456.51,204.5 455.24,204.7 454.18,204.95 C453.13,205.2 452.25,205.48 451.26,205.73 C450.26,205.98 449.27,206.19 448.21,206.45 C447.14,206.72 445.94,206.97 444.87,207.32 C443.8,207.66 442.75,208.28 441.79,208.53 C440.82,208.79 439.98,208.68 439.09,208.84 C438.19,209 437.11,209.56 436.42,209.51 C435.74,209.46 435.42,208.98 434.99,208.55 C434.56,208.13 433.75,207.44 433.83,206.96Z" fill="#18c8f0" stroke="#30a0ff" stroke-width="2.0" stroke-linejoin="round"/>
<ellipse cx="466.2" cy="195" rx="7.8" ry="9.2" fill="url(#hR)" transform="rotate(0 466.2 195)"/>
<ellipse cx="439.7" cy="206" rx="9.5" ry="5.6" fill="url(#hY)" transform="rotate(-12 439.7 206)"/>
<ellipse cx="452" cy="201.5" rx="7" ry="3" fill="url(#hG)" transform="rotate(-15 452 201.5)"/>
</g>
<text x="360.7" y="120" font-size="7.8" text-anchor="end" font-weight="bold" fill="#111" stroke="#111" stroke-width="0.1" textLength="20.5" lengthAdjust="spacingAndGlyphs">24.9%</text>
<text x="328.3" y="153.9" font-size="7.8" text-anchor="end" font-weight="bold" fill="#111" stroke="#111" stroke-width="0.1" textLength="20.5" lengthAdjust="spacingAndGlyphs">55.9%</text>
<text x="360.7" y="153.9" font-size="7.8" text-anchor="end" font-weight="bold" fill="#111" stroke="#111" stroke-width="0.1" textLength="20.5" lengthAdjust="spacingAndGlyphs">17.8%</text>
<text x="415.8" y="120" font-size="7.8" text-anchor="end" font-weight="bold" fill="#111" stroke="#111" stroke-width="0.1" textLength="20.5" lengthAdjust="spacingAndGlyphs">45.8%</text>
<text x="378.8" y="153.9" font-size="7.8" text-anchor="end" font-weight="bold" fill="#111" stroke="#111" stroke-width="0.1">38%</text>
<text x="415.8" y="153.9" font-size="7.8" text-anchor="end" font-weight="bold" fill="#111" stroke="#111" stroke-width="0.1" textLength="20.5" lengthAdjust="spacingAndGlyphs">15.6%</text>
<text x="475.8" y="120" font-size="7.8" text-anchor="end" font-weight="bold" fill="#111" stroke="#111" stroke-width="0.1" textLength="20.5" lengthAdjust="spacingAndGlyphs">74.6%</text>
<text x="448.2" y="153.9" font-size="7.8" text-anchor="end" font-weight="bold" fill="#111" stroke="#111" stroke-width="0.1" textLength="20.5" lengthAdjust="spacingAndGlyphs">12.6%</text>
<text x="475.8" y="153.9" font-size="7.8" text-anchor="end" font-weight="bold" fill="#111" stroke="#111" stroke-width="0.1" textLength="20.5" lengthAdjust="spacingAndGlyphs">1.44%</text>
<text x="360.7" y="178.9" font-size="7.8" text-anchor="end" font-weight="bold" fill="#111" stroke="#111" stroke-width="0.1" textLength="20.5" lengthAdjust="spacingAndGlyphs">24.9%</text>
<text x="328.3" y="211.9" font-size="7.8" text-anchor="end" font-weight="bold" fill="#111" stroke="#111" stroke-width="0.1" textLength="20.5" lengthAdjust="spacingAndGlyphs">55.9%</text>
<text x="360.7" y="211.9" font-size="7.8" text-anchor="end" font-weight="bold" fill="#111" stroke="#111" stroke-width="0.1" textLength="20.5" lengthAdjust="spacingAndGlyphs">17.8%</text>
<text x="415.8" y="178.9" font-size="7.8" text-anchor="end" font-weight="bold" fill="#111" stroke="#111" stroke-width="0.1" textLength="20.5" lengthAdjust="spacingAndGlyphs">52.9%</text>
<text x="388.6" y="210.1" font-size="7.8" text-anchor="end" font-weight="bold" fill="#111" stroke="#111" stroke-width="0.1" textLength="20.5" lengthAdjust="spacingAndGlyphs">41.6%</text>
<text x="415.8" y="209.9" font-size="7.8" text-anchor="end" font-weight="bold" fill="#111" stroke="#111" stroke-width="0.1" textLength="20.5" lengthAdjust="spacingAndGlyphs">3.67%</text>
<text x="475.8" y="178.9" font-size="7.8" text-anchor="end" font-weight="bold" fill="#111" stroke="#111" stroke-width="0.1" textLength="20.5" lengthAdjust="spacingAndGlyphs">54.9%</text>
<text x="446.6" y="209.7" font-size="7.8" text-anchor="end" font-weight="bold" fill="#111" stroke="#111" stroke-width="0.1" textLength="20.5" lengthAdjust="spacingAndGlyphs">30.4%</text>
<text x="475.8" y="209.9" font-size="7.8" text-anchor="end" font-weight="bold" fill="#111" stroke="#111" stroke-width="0.1" textLength="20.5" lengthAdjust="spacingAndGlyphs">10.9%</text>
<text x="3.2" y="249.6" font-size="10.8" font-weight="bold" fill="#000" stroke="#000" stroke-width="0.3">D</text>
<text x="48.1" y="263.6" font-size="10" fill="#000" stroke="#000" stroke-width="0.3" textLength="33.4" lengthAdjust="spacingAndGlyphs">viability</text>
<line x1="31.2" y1="276" x2="31.2" y2="330" stroke="#000" stroke-width="0.9"/>
<line x1="31.2" y1="330" x2="97.1" y2="330" stroke="#000" stroke-width="0.9"/>
<line x1="29.4" y1="330.2" x2="31.2" y2="330.2" stroke="#000" stroke-width="0.8"/>
<text x="28.6" y="333.8" font-size="10" text-anchor="end" fill="#000" stroke="#000" stroke-width="0.3">0</text>
<line x1="29.4" y1="319.6" x2="31.2" y2="319.6" stroke="#000" stroke-width="0.8"/>
<text x="28.6" y="323.2" font-size="10" text-anchor="end" fill="#000" stroke="#000" stroke-width="0.3">10</text>
<line x1="29.4" y1="309" x2="31.2" y2="309" stroke="#000" stroke-width="0.8"/>
<text x="28.6" y="312.6" font-size="10" text-anchor="end" fill="#000" stroke="#000" stroke-width="0.3">20</text>
<line x1="29.4" y1="298.4" x2="31.2" y2="298.4" stroke="#000" stroke-width="0.8"/>
<text x="28.6" y="302" font-size="10" text-anchor="end" fill="#000" stroke="#000" stroke-width="0.3">30</text>
<line x1="29.4" y1="287.8" x2="31.2" y2="287.8" stroke="#000" stroke-width="0.8"/>
<text x="28.6" y="291.4" font-size="10" text-anchor="end" fill="#000" stroke="#000" stroke-width="0.3">40</text>
<line x1="29.4" y1="277.2" x2="31.2" y2="277.2" stroke="#000" stroke-width="0.8"/>
<text x="28.6" y="280.8" font-size="10" text-anchor="end" fill="#000" stroke="#000" stroke-width="0.3">50</text>
<line x1="38.2" y1="282.1" x2="38.2" y2="283.1" stroke="#000" stroke-width="0.8"/>
<line x1="36" y1="282.1" x2="40.4" y2="282.1" stroke="#000" stroke-width="0.9"/>
<rect x="33.7" y="283.1" width="9" height="46.9" fill="#fff" stroke="#000" stroke-width="0.9"/>
<text x="41.7" y="335.8" font-size="9.8" text-anchor="end" fill="#000" stroke="#000" stroke-width="0.3" transform="rotate(-90 41.7 335.8)">0</text>
<line x1="38.2" y1="330" x2="38.2" y2="331.8" stroke="#000" stroke-width="0.8"/>
<line x1="51.7" y1="286.9" x2="51.7" y2="290.2" stroke="#000" stroke-width="0.8"/>
<line x1="49.5" y1="286.9" x2="53.9" y2="286.9" stroke="#000" stroke-width="0.9"/>
<rect x="47.1" y="290.2" width="9.2" height="39.8" fill="#fff" stroke="#000" stroke-width="0.9"/>
<text x="55.2" y="335.8" font-size="9.8" text-anchor="end" fill="#000" stroke="#000" stroke-width="0.3" transform="rotate(-90 55.2 335.8)">0.01</text>
<line x1="51.7" y1="330" x2="51.7" y2="331.8" stroke="#000" stroke-width="0.8"/>
<line x1="65.1" y1="288.7" x2="65.1" y2="291.7" stroke="#000" stroke-width="0.8"/>
<line x1="62.9" y1="288.7" x2="67.3" y2="288.7" stroke="#000" stroke-width="0.9"/>
<rect x="60.6" y="291.7" width="9" height="38.3" fill="#fff" stroke="#000" stroke-width="0.9"/>
<text x="68.6" y="335.8" font-size="9.8" text-anchor="end" fill="#000" stroke="#000" stroke-width="0.3" transform="rotate(-90 68.6 335.8)">0.1</text>
<line x1="65.1" y1="330" x2="65.1" y2="331.8" stroke="#000" stroke-width="0.8"/>
<line x1="78.55" y1="302.3" x2="78.55" y2="306.5" stroke="#000" stroke-width="0.8"/>
<line x1="76.35" y1="302.3" x2="80.75" y2="302.3" stroke="#000" stroke-width="0.9"/>
<rect x="74" y="306.5" width="9.1" height="23.5" fill="#fff" stroke="#000" stroke-width="0.9"/>
<text x="82.05" y="335.8" font-size="9.8" text-anchor="end" fill="#000" stroke="#000" stroke-width="0.3" transform="rotate(-90 82.05 335.8)">1</text>
<line x1="78.55" y1="330" x2="78.55" y2="331.8" stroke="#000" stroke-width="0.8"/>
<line x1="92" y1="314" x2="92" y2="314.6" stroke="#000" stroke-width="0.8"/>
<line x1="89.8" y1="314" x2="94.2" y2="314" stroke="#000" stroke-width="0.9"/>
<rect x="87.5" y="314.6" width="9" height="15.4" fill="#fff" stroke="#000" stroke-width="0.9"/>
<text x="95.5" y="335.8" font-size="9.8" text-anchor="end" fill="#000" stroke="#000" stroke-width="0.3" transform="rotate(-90 95.5 335.8)">10</text>
<line x1="92" y1="330" x2="92" y2="331.8" stroke="#000" stroke-width="0.8"/>
<text x="12.2" y="303" font-size="10.4" text-anchor="middle" fill="#000" stroke="#000" stroke-width="0.3" transform="rotate(-90 12.2 303)">RLU</text>
<text x="30.8" y="365.2" font-size="9.8" fill="#000" stroke="#000" stroke-width="0.3" textLength="68.5" lengthAdjust="spacingAndGlyphs">J6M0-mcMMAF</text>
<text x="30.8" y="377.4" font-size="9.8" fill="#000" stroke="#000" stroke-width="0.3" textLength="31" lengthAdjust="spacingAndGlyphs">(&#181;g/ml)</text>
<text x="103.6" y="250" font-size="10.8" font-weight="bold" fill="#000" stroke="#000" stroke-width="0.3">E</text>
<text x="126" y="264.1" font-size="10" fill="#000" stroke="#000" stroke-width="0.3">Caspase 3/7</text>
<line x1="137.6" y1="276" x2="137.6" y2="329.6" stroke="#000" stroke-width="0.9"/>
<line x1="137.6" y1="329.6" x2="176" y2="329.6" stroke="#000" stroke-width="0.9"/>
<line x1="135.9" y1="330" x2="137.6" y2="330" stroke="#000" stroke-width="0.8"/>
<text x="133.4" y="333.5" font-size="9.8" text-anchor="end" fill="#000" stroke="#000" stroke-width="0.3">0</text>
<line x1="135.9" y1="312.7" x2="137.6" y2="312.7" stroke="#000" stroke-width="0.8"/>
<text x="133.4" y="316.2" font-size="9.8" text-anchor="end" fill="#000" stroke="#000" stroke-width="0.3">2</text>
<line x1="135.9" y1="295.4" x2="137.6" y2="295.4" stroke="#000" stroke-width="0.8"/>
<text x="133.4" y="298.9" font-size="9.8" text-anchor="end" fill="#000" stroke="#000" stroke-width="0.3">4</text>
<line x1="135.9" y1="278.1" x2="137.6" y2="278.1" stroke="#000" stroke-width="0.8"/>
<text x="133.4" y="281.6" font-size="9.8" text-anchor="end" fill="#000" stroke="#000" stroke-width="0.3">6</text>
<line x1="142" y1="315.2" x2="146.4" y2="315.2" stroke="#000" stroke-width="0.9"/>
<rect x="140.2" y="315.8" width="8" height="13.8" fill="#fff" stroke="#000" stroke-width="0.9"/>
<text x="147.1" y="335.3" font-size="9.8" text-anchor="end" fill="#000" stroke="#000" stroke-width="0.3" transform="rotate(-90 147.1 335.3)">0</text>
<line x1="144.2" y1="329.6" x2="144.2" y2="331.4" stroke="#000" stroke-width="0.8"/>
<line x1="154.6" y1="298.8" x2="159" y2="298.8" stroke="#000" stroke-width="0.9"/>
<rect x="152.4" y="299.4" width="8.8" height="30.2" fill="#fff" stroke="#000" stroke-width="0.9"/>
<text x="159.3" y="335.3" font-size="9.8" text-anchor="end" fill="#000" stroke="#000" stroke-width="0.3" transform="rotate(-90 159.3 335.3)">1</text>
<line x1="156.8" y1="329.6" x2="156.8" y2="331.4" stroke="#000" stroke-width="0.8"/>
<line x1="167.6" y1="283.7" x2="172" y2="283.7" stroke="#000" stroke-width="0.9"/>
<rect x="165.4" y="284.7" width="8.8" height="44.9" fill="#fff" stroke="#000" stroke-width="0.9"/>
<text x="173.3" y="335.3" font-size="9.8" text-anchor="end" fill="#000" stroke="#000" stroke-width="0.3" transform="rotate(-90 173.3 335.3)">10</text>
<line x1="169.8" y1="329.6" x2="169.8" y2="331.4" stroke="#000" stroke-width="0.8"/>
<text x="122.6" y="302.6" font-size="10" text-anchor="middle" stroke="#000" stroke-width="0.22" transform="rotate(-90 122.6 302.6)">RLU,  x10<tspan font-size="6.5" dy="-3.8">3</tspan></text>
<text x="124" y="365.6" font-size="9.8" fill="#000" stroke="#000" stroke-width="0.3" textLength="70.2" lengthAdjust="spacingAndGlyphs">J6M0-mcMMAF</text>
<text x="124" y="377.3" font-size="9.8" fill="#000" stroke="#000" stroke-width="0.3" textLength="31" lengthAdjust="spacingAndGlyphs">(&#181;g/ml)</text>
<text x="199" y="249.6" font-size="10.8" font-weight="bold" fill="#000" stroke="#000" stroke-width="0.3">F</text>
<line x1="254.7" y1="240.1" x2="254.7" y2="336.3" stroke="#000" stroke-width="0.9"/>
<line x1="254.7" y1="336.3" x2="373.8" y2="336.3" stroke="#000" stroke-width="0.9"/>
<line x1="253" y1="337.2" x2="254.7" y2="337.2" stroke="#000" stroke-width="0.8"/>
<text x="250.4" y="340.8" font-size="10" text-anchor="end" fill="#000" stroke="#000" stroke-width="0.3">0.0</text>
<line x1="253" y1="321.2" x2="254.7" y2="321.2" stroke="#000" stroke-width="0.8"/>
<text x="250.4" y="324.8" font-size="10" text-anchor="end" fill="#000" stroke="#000" stroke-width="0.3">0.2</text>
<line x1="253" y1="305.2" x2="254.7" y2="305.2" stroke="#000" stroke-width="0.8"/>
<text x="250.4" y="308.8" font-size="10" text-anchor="end" fill="#000" stroke="#000" stroke-width="0.3">0.4</text>
<line x1="253" y1="289.2" x2="254.7" y2="289.2" stroke="#000" stroke-width="0.8"/>
<text x="250.4" y="292.8" font-size="10" text-anchor="end" fill="#000" stroke="#000" stroke-width="0.3">0.6</text>
<line x1="253" y1="273.2" x2="254.7" y2="273.2" stroke="#000" stroke-width="0.8"/>
<text x="250.4" y="276.8" font-size="10" text-anchor="end" fill="#000" stroke="#000" stroke-width="0.3">0.8</text>
<line x1="253" y1="257.2" x2="254.7" y2="257.2" stroke="#000" stroke-width="0.8"/>
<text x="250.4" y="260.8" font-size="10" text-anchor="end" fill="#000" stroke="#000" stroke-width="0.3">1.0</text>
<line x1="266.6" y1="336.3" x2="266.6" y2="339.4" stroke="#000" stroke-width="0.8"/>
<line x1="290.4" y1="336.3" x2="290.4" y2="339.4" stroke="#000" stroke-width="0.8"/>
<line x1="314.2" y1="336.3" x2="314.2" y2="339.4" stroke="#000" stroke-width="0.8"/>
<line x1="338" y1="336.3" x2="338" y2="339.4" stroke="#000" stroke-width="0.8"/>
<line x1="361.8" y1="336.3" x2="361.8" y2="339.4" stroke="#000" stroke-width="0.8"/>
<text x="266.6" y="352.2" font-size="10.2" text-anchor="middle" fill="#000" stroke="#000" stroke-width="0.3">0</text>
<text x="290.4" y="352.2" font-size="10.2" text-anchor="middle" fill="#000" stroke="#000" stroke-width="0.3">0.01</text>
<text x="314.2" y="352.2" font-size="10.2" text-anchor="middle" fill="#000" stroke="#000" stroke-width="0.3">0.1</text>
<text x="338" y="352.2" font-size="10.2" text-anchor="middle" fill="#000" stroke="#000" stroke-width="0.3">1</text>
<text x="361.8" y="352.2" font-size="10.2" text-anchor="middle" fill="#000" stroke="#000" stroke-width="0.3">10</text>
<text x="276.3" y="366" font-size="9.8" fill="#000" stroke="#000" stroke-width="0.3" textLength="70" lengthAdjust="spacingAndGlyphs">J6M0-mcMMAF</text>
<text x="276.3" y="378" font-size="9.8" fill="#000" stroke="#000" stroke-width="0.3" textLength="31.5" lengthAdjust="spacingAndGlyphs">(&#181;g/ml)</text>
<text x="217.7" y="287.7" font-size="9.5" text-anchor="middle" fill="#000" stroke="#000" stroke-width="0.3" transform="rotate(-90 217.7 287.7)" textLength="55.2" lengthAdjust="spacingAndGlyphs">Fold change</text>
<text x="228" y="289" font-size="9.5" text-anchor="middle" fill="#000" stroke="#000" stroke-width="0.3" transform="rotate(-90 228 289)" textLength="79" lengthAdjust="spacingAndGlyphs">(colony formation)</text>
<line x1="255" y1="297.3" x2="375" y2="297.3" stroke="#000" stroke-width="0.8" stroke-dasharray="2,1.3"/>
<polyline points="266.6,256.8 290.4,273.6 314.2,326.2 338,335.5 361.8,336" fill="none" stroke="#000" stroke-width="1.05"/>
<polyline points="266.6,256.8 290.4,328.5 314.2,336 338,336 361.8,336" fill="none" stroke="#000" stroke-width="1.05"/>
<polyline points="266.6,256.8 290.4,290 314.2,317.3 338,335.5 361.8,336" fill="none" stroke="#000" stroke-width="1.05"/>
<polyline points="266.6,256.8 290.4,283.3 314.2,307.2 338,331.5 361.8,336" fill="none" stroke="#000" stroke-width="1.05"/>
<polyline points="266.6,256.8 290.4,277.6 314.2,332 338,335.5 361.8,336" fill="none" stroke="#000" stroke-width="1.05"/>
<polyline points="266.6,256.8 290.4,274.5 314.2,330 338,335.5 361.8,336" fill="none" stroke="#000" stroke-width="1.05"/>
<polygon points="266.6,253.89 269.4,258.82 263.8,258.82" fill="#000" stroke="none" stroke-width="1"/>
<polygon points="290.4,325.59 293.2,330.52 287.6,330.52" fill="#000" stroke="none" stroke-width="1"/>
<polygon points="314.2,333.09 317,338.02 311.4,338.02" fill="#000" stroke="none" stroke-width="1"/>
<polygon points="338,333.09 340.8,338.02 335.2,338.02" fill="#000" stroke="none" stroke-width="1"/>
<polygon points="361.8,333.09 364.6,338.02 359,338.02" fill="#000" stroke="none" stroke-width="1"/>
<circle cx="266.6" cy="256.8" r="2.35" fill="#fff" stroke="#000" stroke-width="1"/>
<circle cx="290.4" cy="274.5" r="2.35" fill="#fff" stroke="#000" stroke-width="1"/>
<circle cx="314.2" cy="330" r="2.35" fill="#fff" stroke="#000" stroke-width="1"/>
<circle cx="338" cy="335.5" r="2.35" fill="#fff" stroke="#000" stroke-width="1"/>
<circle cx="361.8" cy="336" r="2.35" fill="#fff" stroke="#000" stroke-width="1"/>
<circle cx="266.6" cy="256.8" r="2.35" fill="#fff" stroke="#000" stroke-width="1"/>
<circle cx="290.4" cy="273.6" r="2.35" fill="#fff" stroke="#000" stroke-width="1"/>
<circle cx="314.2" cy="326.2" r="2.35" fill="#fff" stroke="#000" stroke-width="1"/>
<circle cx="338" cy="335.5" r="2.35" fill="#fff" stroke="#000" stroke-width="1"/>
<circle cx="361.8" cy="336" r="2.35" fill="#fff" stroke="#000" stroke-width="1"/>
<polygon points="266.6,254 269.18,256.8 266.6,259.6 264.02,256.8" fill="#fff" stroke="#000" stroke-width="1"/>
<polygon points="290.4,287.2 292.98,290 290.4,292.8 287.82,290" fill="#fff" stroke="#000" stroke-width="1"/>
<polygon points="314.2,314.5 316.78,317.3 314.2,320.1 311.62,317.3" fill="#fff" stroke="#000" stroke-width="1"/>
<polygon points="338,332.7 340.58,335.5 338,338.3 335.42,335.5" fill="#fff" stroke="#000" stroke-width="1"/>
<polygon points="361.8,333.2 364.38,336 361.8,338.8 359.22,336" fill="#fff" stroke="#000" stroke-width="1"/>
<rect x="264.14" y="254.34" width="4.93" height="4.93" fill="#fff" stroke="#000" stroke-width="1"/>
<rect x="287.94" y="280.84" width="4.93" height="4.93" fill="#fff" stroke="#000" stroke-width="1"/>
<rect x="311.74" y="304.74" width="4.93" height="4.93" fill="#fff" stroke="#000" stroke-width="1"/>
<rect x="335.54" y="329.04" width="4.93" height="4.93" fill="#fff" stroke="#000" stroke-width="1"/>
<rect x="359.34" y="333.54" width="4.93" height="4.93" fill="#fff" stroke="#000" stroke-width="1"/>
<polygon points="266.6,253.89 269.4,258.82 263.8,258.82" fill="#fff" stroke="#000" stroke-width="1"/>
<polygon points="290.4,274.69 293.2,279.62 287.6,279.62" fill="#fff" stroke="#000" stroke-width="1"/>
<polygon points="314.2,329.09 317,334.02 311.4,334.02" fill="#fff" stroke="#000" stroke-width="1"/>
<polygon points="338,332.59 340.8,337.52 335.2,337.52" fill="#fff" stroke="#000" stroke-width="1"/>
<polygon points="361.8,333.09 364.6,338.02 359,338.02" fill="#fff" stroke="#000" stroke-width="1"/>
<circle cx="319.8" cy="245.9" r="2.21" fill="#fff" stroke="#000" stroke-width="1"/>
<text x="327.6" y="249.2" font-size="9.5" fill="#000" stroke="#000" stroke-width="0.32">MM1S</text>
<polygon points="319.8,251.87 322.43,256.49 317.18,256.49" fill="#000" stroke="none" stroke-width="1"/>
<text x="327.6" y="257.9" font-size="9.5" fill="#000" stroke="#000" stroke-width="0.32">H929</text>
<polygon points="319.8,260.57 322.22,263.2 319.8,265.82 317.38,263.2" fill="#fff" stroke="#000" stroke-width="1"/>
<text x="327.6" y="266.5" font-size="9.5" fill="#000" stroke="#000" stroke-width="0.32">ANBL6</text>
<rect x="317.49" y="269.59" width="4.62" height="4.62" fill="#fff" stroke="#000" stroke-width="1"/>
<text x="327.6" y="275.2" font-size="9.5" fill="#000" stroke="#000" stroke-width="0.32" textLength="47" lengthAdjust="spacingAndGlyphs">RPMI8226</text>
<polygon points="319.8,278.17 322.43,282.79 317.18,282.79" fill="#fff" stroke="#000" stroke-width="1"/>
<text x="327.6" y="284.2" font-size="9.5" fill="#000" stroke="#000" stroke-width="0.32">OPM2</text>
<circle cx="319.8" cy="289.3" r="2.21" fill="#fff" stroke="#000" stroke-width="1"/>
<text x="327.6" y="292.6" font-size="9.5" fill="#000" stroke="#000" stroke-width="0.32">INA6</text>
<rect x="383" y="234" width="100" height="124" fill="#fcf6f5"/>
<rect x="383" y="308" width="100" height="2.5" fill="#f0dcd6"/>
<circle cx="396.2" cy="247" r="11.9" fill="#fffafa" stroke="#e6d0cc" stroke-width="0.8"/>
<circle cx="396.2" cy="247" r="10.4" fill="#f4dcd8" stroke="none" stroke-width="1"/>
<circle cx="396.2" cy="247" r="9.8" fill="url(#gOr)" stroke="none" stroke-width="1"/>
<circle cx="392.21" cy="243.13" r="1.79" fill="#e67a34" stroke="none" stroke-width="1" opacity="0.55"/>
<circle cx="396.5" cy="245.16" r="1.87" fill="#e67a34" stroke="none" stroke-width="1" opacity="0.55"/>
<circle cx="398.87" cy="249.3" r="1.19" fill="#ec9040" stroke="none" stroke-width="1" opacity="0.55"/>
<circle cx="397.7" cy="248.12" r="1.23" fill="#ec9040" stroke="none" stroke-width="1" opacity="0.55"/>
<circle cx="398.9" cy="252.92" r="0.91" fill="#e06028" stroke="none" stroke-width="1" opacity="0.55"/>
<circle cx="396.5" cy="246" r="0.86" fill="#e06028" stroke="none" stroke-width="1" opacity="0.55"/>
<circle cx="402.74" cy="247.07" r="1.71" fill="#ec9040" stroke="none" stroke-width="1" opacity="0.55"/>
<circle cx="397.4" cy="246.69" r="1.08" fill="#ec9040" stroke="none" stroke-width="1" opacity="0.55"/>
<circle cx="400.12" cy="246.02" r="0.94" fill="#ec9040" stroke="none" stroke-width="1" opacity="0.55"/>
<circle cx="397.65" cy="246.71" r="1.09" fill="#e06028" stroke="none" stroke-width="1" opacity="0.55"/>
<circle cx="395.4" cy="247.95" r="1.04" fill="#ec9040" stroke="none" stroke-width="1" opacity="0.55"/>
<circle cx="393.19" cy="252.34" r="1.47" fill="#e67a34" stroke="none" stroke-width="1" opacity="0.55"/>
<circle cx="396.07" cy="246.52" r="1.76" fill="#b82e14" stroke="none" stroke-width="1" opacity="0.55"/>
<circle cx="393.85" cy="247.29" r="1.31" fill="#e06028" stroke="none" stroke-width="1" opacity="0.55"/>
<circle cx="420.8" cy="247" r="11.9" fill="#fffafa" stroke="#e6d0cc" stroke-width="0.8"/>
<circle cx="420.8" cy="247" r="10.4" fill="#f4dcd8" stroke="none" stroke-width="1"/>
<circle cx="420.8" cy="247" r="9.8" fill="url(#gOr)" stroke="none" stroke-width="1"/>
<circle cx="421.66" cy="248.72" r="1.93" fill="#e67a34" stroke="none" stroke-width="1" opacity="0.55"/>
<circle cx="418.9" cy="249.37" r="1.18" fill="#e06028" stroke="none" stroke-width="1" opacity="0.55"/>
<circle cx="420.74" cy="246.97" r="1.62" fill="#e67a34" stroke="none" stroke-width="1" opacity="0.55"/>
<circle cx="415.69" cy="241.99" r="1.68" fill="#e67a34" stroke="none" stroke-width="1" opacity="0.55"/>
<circle cx="427.18" cy="243.96" r="1.37" fill="#b82e14" stroke="none" stroke-width="1" opacity="0.55"/>
<circle cx="422.27" cy="245.82" r="0.84" fill="#e06028" stroke="none" stroke-width="1" opacity="0.55"/>
<circle cx="420.73" cy="241.02" r="0.75" fill="#b82e14" stroke="none" stroke-width="1" opacity="0.55"/>
<circle cx="421.44" cy="246.77" r="1.37" fill="#b82e14" stroke="none" stroke-width="1" opacity="0.55"/>
<circle cx="420.08" cy="247.85" r="1.9" fill="#b82e14" stroke="none" stroke-width="1" opacity="0.55"/>
<circle cx="418.55" cy="246.35" r="1.1" fill="#b82e14" stroke="none" stroke-width="1" opacity="0.55"/>
<circle cx="422.21" cy="242.51" r="2" fill="#b82e14" stroke="none" stroke-width="1" opacity="0.55"/>
<circle cx="420.99" cy="247.31" r="0.74" fill="#e06028" stroke="none" stroke-width="1" opacity="0.55"/>
<circle cx="420.64" cy="244.43" r="1.29" fill="#b82e14" stroke="none" stroke-width="1" opacity="0.55"/>
<circle cx="420.43" cy="247.2" r="1.74" fill="#e67a34" stroke="none" stroke-width="1" opacity="0.55"/>
<circle cx="446" cy="247" r="11.9" fill="#fffafa" stroke="#e6d0cc" stroke-width="0.8"/>
<circle cx="446" cy="247" r="10.4" fill="#f4dcd8" stroke="none" stroke-width="1"/>
<circle cx="446" cy="247" r="9.9" fill="url(#gRd)" stroke="none" stroke-width="1"/>
<circle cx="470.6" cy="247" r="11.9" fill="#fffafa" stroke="#e6d0cc" stroke-width="0.8"/>
<circle cx="470.6" cy="247" r="10.4" fill="#f4dcd8" stroke="none" stroke-width="1"/>
<circle cx="470.6" cy="247" r="9.9" fill="url(#gRd)" stroke="none" stroke-width="1"/>
<circle cx="396.2" cy="272.4" r="11.9" fill="#fffafa" stroke="#e6d0cc" stroke-width="0.8"/>
<circle cx="396.2" cy="272.4" r="10.4" fill="#f4dcd8" stroke="none" stroke-width="1"/>
<circle cx="396.2" cy="272.4" r="9.8" fill="url(#gOr)" stroke="none" stroke-width="1"/>
<circle cx="395.42" cy="273.74" r="1.52" fill="#ec9040" stroke="none" stroke-width="1" opacity="0.55"/>
<circle cx="396.39" cy="271.62" r="1.18" fill="#e06028" stroke="none" stroke-width="1" opacity="0.55"/>
<circle cx="399.14" cy="273.54" r="1.29" fill="#ec9040" stroke="none" stroke-width="1" opacity="0.55"/>
<circle cx="402.59" cy="272.35" r="1.95" fill="#e06028" stroke="none" stroke-width="1" opacity="0.55"/>
<circle cx="395.3" cy="270.19" r="1.08" fill="#b82e14" stroke="none" stroke-width="1" opacity="0.55"/>
<circle cx="395.3" cy="273.03" r="1.77" fill="#e06028" stroke="none" stroke-width="1" opacity="0.55"/>
<circle cx="394.88" cy="272.14" r="1.83" fill="#e06028" stroke="none" stroke-width="1" opacity="0.55"/>
<circle cx="397.77" cy="275.74" r="0.78" fill="#b82e14" stroke="none" stroke-width="1" opacity="0.55"/>
<circle cx="396.94" cy="269.84" r="1.69" fill="#e67a34" stroke="none" stroke-width="1" opacity="0.55"/>
<circle cx="392.75" cy="276.4" r="1.79" fill="#b82e14" stroke="none" stroke-width="1" opacity="0.55"/>
<circle cx="395.52" cy="279.73" r="1.94" fill="#b82e14" stroke="none" stroke-width="1" opacity="0.55"/>
<circle cx="395.48" cy="273.53" r="1.32" fill="#e67a34" stroke="none" stroke-width="1" opacity="0.55"/>
<circle cx="396.56" cy="269.98" r="1.3" fill="#b82e14" stroke="none" stroke-width="1" opacity="0.55"/>
<circle cx="398.16" cy="267.96" r="1.15" fill="#b82e14" stroke="none" stroke-width="1" opacity="0.55"/>
<circle cx="420.8" cy="272.4" r="11.9" fill="#fffafa" stroke="#e6d0cc" stroke-width="0.8"/>
<circle cx="420.8" cy="272.4" r="10.4" fill="#f4dcd8" stroke="none" stroke-width="1"/>
<circle cx="420.8" cy="272.4" r="9.8" fill="url(#gOr)" stroke="none" stroke-width="1"/>
<circle cx="417.37" cy="268.05" r="1.16" fill="#e06028" stroke="none" stroke-width="1" opacity="0.55"/>
<circle cx="424.38" cy="266.95" r="1.97" fill="#e06028" stroke="none" stroke-width="1" opacity="0.55"/>
<circle cx="424.54" cy="271.34" r="0.96" fill="#ec9040" stroke="none" stroke-width="1" opacity="0.55"/>
<circle cx="416.66" cy="277.29" r="1.6" fill="#b82e14" stroke="none" stroke-width="1" opacity="0.55"/>
<circle cx="419.75" cy="267.02" r="1.5" fill="#ec9040" stroke="none" stroke-width="1" opacity="0.55"/>
<circle cx="424.36" cy="270.88" r="1.09" fill="#e06028" stroke="none" stroke-width="1" opacity="0.55"/>
<circle cx="414.65" cy="270.28" r="1.64" fill="#b82e14" stroke="none" stroke-width="1" opacity="0.55"/>
<circle cx="421.98" cy="272.61" r="1.51" fill="#e06028" stroke="none" stroke-width="1" opacity="0.55"/>
<circle cx="423.2" cy="277.56" r="1.52" fill="#ec9040" stroke="none" stroke-width="1" opacity="0.55"/>
<circle cx="424.22" cy="273.32" r="0.92" fill="#ec9040" stroke="none" stroke-width="1" opacity="0.55"/>
<circle cx="421.44" cy="271.88" r="1.33" fill="#ec9040" stroke="none" stroke-width="1" opacity="0.55"/>
<circle cx="417.82" cy="271.47" r="1.19" fill="#b82e14" stroke="none" stroke-width="1" opacity="0.55"/>
<circle cx="417.42" cy="269.55" r="1.63" fill="#ec9040" stroke="none" stroke-width="1" opacity="0.55"/>
<circle cx="418.95" cy="274.27" r="1.81" fill="#b82e14" stroke="none" stroke-width="1" opacity="0.55"/>
<circle cx="446" cy="272.4" r="11.9" fill="#fffafa" stroke="#e6d0cc" stroke-width="0.8"/>
<circle cx="446" cy="272.4" r="10.4" fill="#f4dcd8" stroke="none" stroke-width="1"/>
<circle cx="446" cy="272.4" r="9.9" fill="url(#gRd)" stroke="none" stroke-width="1"/>
<circle cx="470.6" cy="272.4" r="11.9" fill="#fffafa" stroke="#e6d0cc" stroke-width="0.8"/>
<circle cx="470.6" cy="272.4" r="10.4" fill="#f4dcd8" stroke="none" stroke-width="1"/>
<circle cx="470.6" cy="272.4" r="9.9" fill="url(#gRd)" stroke="none" stroke-width="1"/>
<circle cx="396.2" cy="297.4" r="11.9" fill="#fffafa" stroke="#e6d0cc" stroke-width="0.8"/>
<circle cx="396.2" cy="297.4" r="10.4" fill="#f4dcd8" stroke="none" stroke-width="1"/>
<circle cx="396.2" cy="297.4" r="9.8" fill="url(#gOr)" stroke="none" stroke-width="1"/>
<circle cx="399.64" cy="293.55" r="1.95" fill="#b82e14" stroke="none" stroke-width="1" opacity="0.55"/>
<circle cx="394.05" cy="296.71" r="1.41" fill="#b82e14" stroke="none" stroke-width="1" opacity="0.55"/>
<circle cx="393.88" cy="301.09" r="1.76" fill="#b82e14" stroke="none" stroke-width="1" opacity="0.55"/>
<circle cx="390.88" cy="300.37" r="1.31" fill="#b82e14" stroke="none" stroke-width="1" opacity="0.55"/>
<circle cx="397.79" cy="299.79" r="1.94" fill="#e06028" stroke="none" stroke-width="1" opacity="0.55"/>
<circle cx="400.67" cy="296.47" r="1.77" fill="#b82e14" stroke="none" stroke-width="1" opacity="0.55"/>
<circle cx="394.69" cy="294.97" r="1.44" fill="#b82e14" stroke="none" stroke-width="1" opacity="0.55"/>
<circle cx="395.41" cy="296.7" r="1.26" fill="#e06028" stroke="none" stroke-width="1" opacity="0.55"/>
<circle cx="399.86" cy="296.85" r="1.96" fill="#e06028" stroke="none" stroke-width="1" opacity="0.55"/>
<circle cx="390.96" cy="302.35" r="1.47" fill="#ec9040" stroke="none" stroke-width="1" opacity="0.55"/>
<circle cx="395.75" cy="304.74" r="1.03" fill="#e06028" stroke="none" stroke-width="1" opacity="0.55"/>
<circle cx="403.23" cy="298.27" r="1.34" fill="#b82e14" stroke="none" stroke-width="1" opacity="0.55"/>
<circle cx="395.39" cy="300.88" r="1.56" fill="#e67a34" stroke="none" stroke-width="1" opacity="0.55"/>
<circle cx="397.98" cy="296.95" r="1.72" fill="#e67a34" stroke="none" stroke-width="1" opacity="0.55"/>
<circle cx="420.8" cy="297.4" r="11.9" fill="#fffafa" stroke="#e6d0cc" stroke-width="0.8"/>
<circle cx="420.8" cy="297.4" r="10.4" fill="#f4dcd8" stroke="none" stroke-width="1"/>
<circle cx="420.8" cy="297.4" r="9.8" fill="url(#gOr)" stroke="none" stroke-width="1"/>
<circle cx="420.85" cy="297.31" r="1.02" fill="#b82e14" stroke="none" stroke-width="1" opacity="0.55"/>
<circle cx="420.53" cy="297.44" r="1.05" fill="#e06028" stroke="none" stroke-width="1" opacity="0.55"/>
<circle cx="424.98" cy="303.53" r="1.34" fill="#b82e14" stroke="none" stroke-width="1" opacity="0.55"/>
<circle cx="424.68" cy="297.2" r="0.72" fill="#e67a34" stroke="none" stroke-width="1" opacity="0.55"/>
<circle cx="422.29" cy="298.91" r="1.5" fill="#b82e14" stroke="none" stroke-width="1" opacity="0.55"/>
<circle cx="420.78" cy="297.2" r="1.17" fill="#b82e14" stroke="none" stroke-width="1" opacity="0.55"/>
<circle cx="420.65" cy="292.97" r="0.7" fill="#e67a34" stroke="none" stroke-width="1" opacity="0.55"/>
<circle cx="415.94" cy="295.72" r="1.85" fill="#e67a34" stroke="none" stroke-width="1" opacity="0.55"/>
<circle cx="420.7" cy="297.37" r="1.47" fill="#e06028" stroke="none" stroke-width="1" opacity="0.55"/>
<circle cx="418.11" cy="290.77" r="1.82" fill="#e06028" stroke="none" stroke-width="1" opacity="0.55"/>
<circle cx="422.73" cy="294.4" r="1.87" fill="#ec9040" stroke="none" stroke-width="1" opacity="0.55"/>
<circle cx="415.25" cy="298.65" r="1.79" fill="#b82e14" stroke="none" stroke-width="1" opacity="0.55"/>
<circle cx="419.69" cy="294.35" r="1.54" fill="#b82e14" stroke="none" stroke-width="1" opacity="0.55"/>
<circle cx="418.5" cy="297.81" r="1.32" fill="#ec9040" stroke="none" stroke-width="1" opacity="0.55"/>
<circle cx="446" cy="297.4" r="11.9" fill="#fffafa" stroke="#e6d0cc" stroke-width="0.8"/>
<circle cx="446" cy="297.4" r="10.4" fill="#f4dcd8" stroke="none" stroke-width="1"/>
<circle cx="446" cy="297.4" r="9.9" fill="url(#gRd)" stroke="none" stroke-width="1"/>
<circle cx="470.6" cy="297.4" r="11.9" fill="#fffafa" stroke="#e6d0cc" stroke-width="0.8"/>
<circle cx="470.6" cy="297.4" r="10.4" fill="#f4dcd8" stroke="none" stroke-width="1"/>
<circle cx="470.6" cy="297.4" r="9.9" fill="url(#gRd)" stroke="none" stroke-width="1"/>
<circle cx="396.2" cy="320.6" r="12.3" fill="#f8ece6" stroke="#e2ccc4" stroke-width="0.7"/>
<circle cx="396.2" cy="320.6" r="10.8" fill="url(#gGd)" stroke="none" stroke-width="1"/>
<circle cx="420.8" cy="320.6" r="12.3" fill="#f8ece6" stroke="#e2ccc4" stroke-width="0.7"/>
<circle cx="420.8" cy="320.6" r="10.8" fill="url(#gGd)" stroke="none" stroke-width="1"/>
<circle cx="446" cy="320.6" r="12.3" fill="#f8ece6" stroke="#e2ccc4" stroke-width="0.7"/>
<circle cx="446" cy="320.6" r="10.8" fill="url(#gOg)" stroke="none" stroke-width="1"/>
<circle cx="470.6" cy="320.6" r="12.3" fill="#f8ece6" stroke="#e2ccc4" stroke-width="0.7"/>
<circle cx="470.6" cy="320.6" r="10.8" fill="url(#gDr)" stroke="none" stroke-width="1"/>
<circle cx="396.2" cy="345.6" r="12.3" fill="#f8ece6" stroke="#e2ccc4" stroke-width="0.7"/>
<circle cx="396.2" cy="345.6" r="10.8" fill="url(#gGd)" stroke="none" stroke-width="1"/>
<circle cx="420.8" cy="345.6" r="12.3" fill="#f8ece6" stroke="#e2ccc4" stroke-width="0.7"/>
<circle cx="420.8" cy="345.6" r="10.8" fill="url(#gGd)" stroke="none" stroke-width="1"/>
<circle cx="446" cy="345.6" r="12.3" fill="#f8ece6" stroke="#e2ccc4" stroke-width="0.7"/>
<circle cx="446" cy="345.6" r="10.8" fill="url(#gOg)" stroke="none" stroke-width="1"/>
<circle cx="470.6" cy="345.6" r="12.3" fill="#f8ece6" stroke="#e2ccc4" stroke-width="0.7"/>
<circle cx="470.6" cy="345.6" r="10.8" fill="url(#gDr)" stroke="none" stroke-width="1"/>
<text x="483" y="248.6" font-size="9.6" fill="#000" stroke="#000" stroke-width="0.3" textLength="20.6" lengthAdjust="spacingAndGlyphs">INA6</text>
<text x="483" y="318.6" font-size="9.6" fill="#000" stroke="#000" stroke-width="0.3" textLength="29" lengthAdjust="spacingAndGlyphs">OPM2</text>
<text x="396.2" y="368.6" font-size="9.8" text-anchor="middle" fill="#000" stroke="#000" stroke-width="0.3">0</text>
<text x="420.8" y="368.6" font-size="9.8" text-anchor="middle" fill="#000" stroke="#000" stroke-width="0.3">0.01</text>
<text x="446" y="368.6" font-size="9.8" text-anchor="middle" fill="#000" stroke="#000" stroke-width="0.3">0.1</text>
<text x="470.6" y="368.6" font-size="9.8" text-anchor="middle" fill="#000" stroke="#000" stroke-width="0.3">1</text>
<text x="383.5" y="378.6" font-size="9.8" fill="#000" stroke="#000" stroke-width="0.3" textLength="70.5" lengthAdjust="spacingAndGlyphs">J6M0-mcMMAF</text>
<text x="457.8" y="378.3" font-size="7" fill="#000" stroke="#000" stroke-width="0.3" textLength="26.6" lengthAdjust="spacingAndGlyphs">(&#181;g/ml)</text>
</svg></body></html>
